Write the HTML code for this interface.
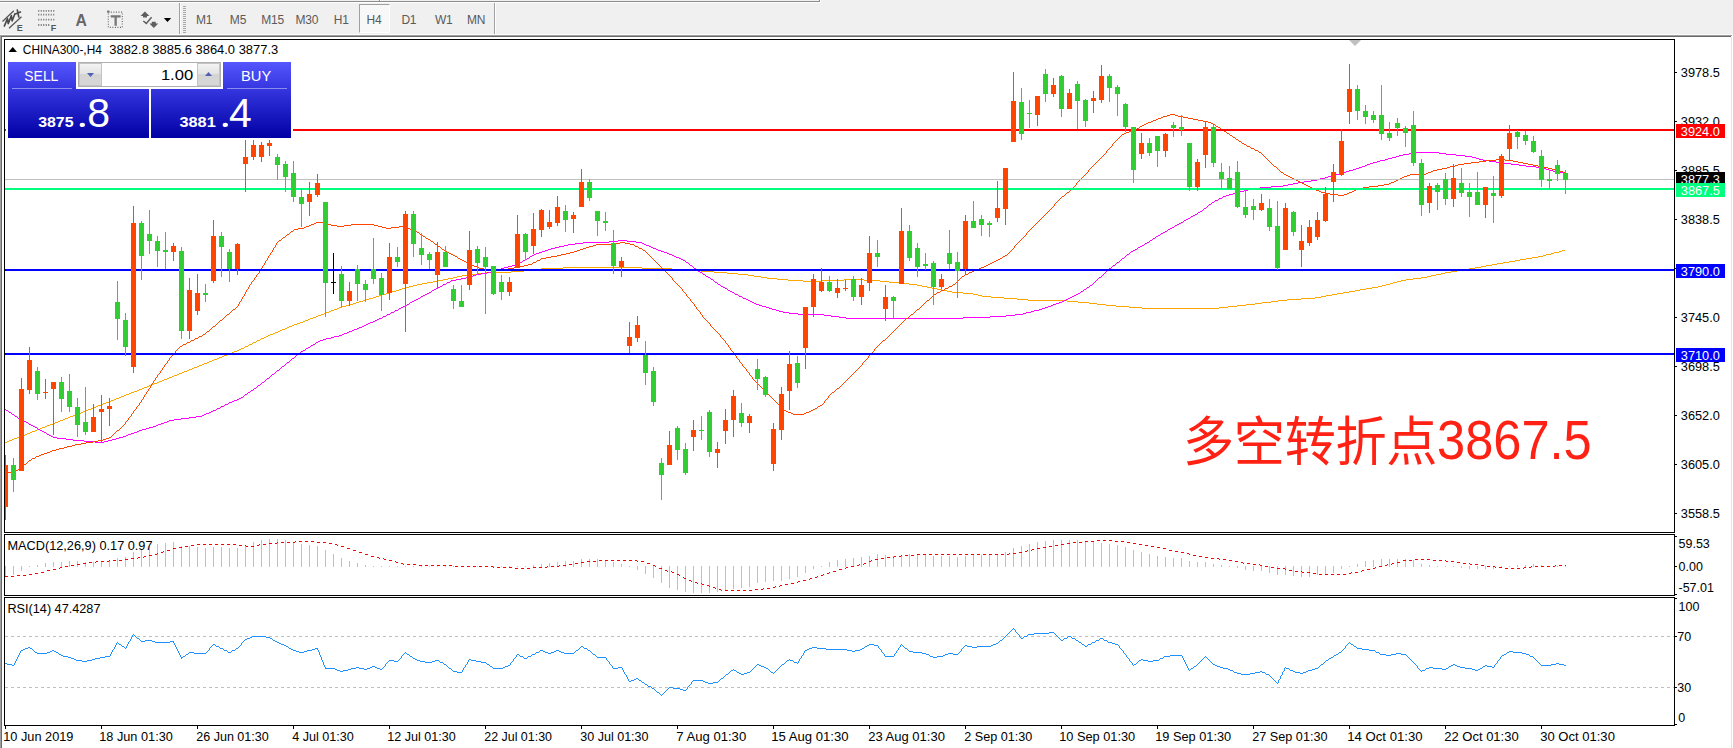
<!DOCTYPE html>
<html><head><meta charset="utf-8"><title>CHINA300-,H4</title>
<style>
html,body{margin:0;padding:0;}
body{width:1733px;height:748px;overflow:hidden;background:#fff;position:relative;font-family:"Liberation Sans",sans-serif;}
#tb{position:absolute;left:0;top:0;width:1733px;height:35px;background:#f0f0f0;}
.tf{position:absolute;top:10px;height:20px;line-height:20px;font-size:12px;color:#5a5a5a;text-align:center;letter-spacing:-0.2px;}
#h4{position:absolute;left:359px;top:4px;width:31px;height:29px;box-sizing:border-box;border-left:1px solid #a0a0a0;border-top:1px solid #a0a0a0;border-right:1px solid #fff;border-bottom:1px solid #fff;background:#f8f8f8;}
#chart{position:absolute;left:0;top:0;}
.ot{position:absolute;color:#fff;white-space:nowrap;}
.note{position:absolute;font-size:50px;line-height:50px;height:50px;color:#ff2214;white-space:nowrap;font-family:"Liberation Sans","Noto Sans CJK SC",sans-serif;transform-origin:0 0;}
</style></head><body>
<div id="tb">
<div id="h4"></div>
<div class="tf" style="left:184.2px;width:40px;">M1</div>
<div class="tf" style="left:218.0px;width:40px;">M5</div>
<div class="tf" style="left:252.7px;width:40px;">M15</div>
<div class="tf" style="left:286.9px;width:40px;">M30</div>
<div class="tf" style="left:321.2px;width:40px;">H1</div>
<div class="tf" style="left:354.1px;width:40px;">H4</div>
<div class="tf" style="left:388.9px;width:40px;">D1</div>
<div class="tf" style="left:423.7px;width:40px;">W1</div>
<div class="tf" style="left:456.2px;width:40px;">MN</div>
</div>
<svg id="chart" width="1733" height="748" viewBox="0 0 1733 748" font-family="Liberation Sans, sans-serif" font-size="13">
<defs>
<linearGradient id="gb" x1="0" y1="62" x2="0" y2="138" gradientUnits="userSpaceOnUse"><stop offset="0" stop-color="#5656ff"/><stop offset="0.35" stop-color="#3636e0"/><stop offset="1" stop-color="#0000a4"/></linearGradient>
<linearGradient id="gs" x1="0" y1="0" x2="0" y2="1"><stop offset="0" stop-color="#f4f4f4"/><stop offset="0.5" stop-color="#e2e2e2"/><stop offset="0.5" stop-color="#d4d4d4"/><stop offset="1" stop-color="#d8d8d8"/></linearGradient>
</defs>
<g shape-rendering="crispEdges">
<rect x="0" y="1" width="820" height="1" fill="#8c8c8c"/><rect x="0" y="2" width="820" height="1" fill="#fff"/><rect x="819" y="0" width="1" height="2" fill="#8c8c8c"/><rect x="820" y="0" width="1" height="3" fill="#fff"/>
<rect x="379" y="0" width="1" height="1" fill="#8c8c8c"/><rect x="380" y="0" width="1" height="1" fill="#fff"/>
<rect x="0" y="34" width="1733" height="1" fill="#fbfbfb"/>
<rect x="0" y="35" width="1732" height="1" fill="#a0a0a0"/>
<rect x="0" y="36" width="1731" height="1" fill="#696969"/>
<rect x="0" y="36" width="1" height="712" fill="#a0a0a0"/>
<rect x="1" y="37" width="1" height="711" fill="#696969"/>
<rect x="1731" y="37" width="1" height="711" fill="#e3e3e3"/>
<rect x="179" y="3" width="1" height="31" fill="#a0a0a0"/><rect x="180" y="3" width="1" height="31" fill="#fff"/>
<rect x="494" y="3" width="1" height="31" fill="#a0a0a0"/><rect x="495" y="3" width="1" height="31" fill="#fff"/>
<rect x="183" y="6" width="3" height="1" fill="#a8a8a8"/>
<rect x="183" y="8" width="3" height="1" fill="#a8a8a8"/>
<rect x="183" y="10" width="3" height="1" fill="#a8a8a8"/>
<rect x="183" y="12" width="3" height="1" fill="#a8a8a8"/>
<rect x="183" y="14" width="3" height="1" fill="#a8a8a8"/>
<rect x="183" y="16" width="3" height="1" fill="#a8a8a8"/>
<rect x="183" y="18" width="3" height="1" fill="#a8a8a8"/>
<rect x="183" y="20" width="3" height="1" fill="#a8a8a8"/>
<rect x="183" y="22" width="3" height="1" fill="#a8a8a8"/>
<rect x="183" y="24" width="3" height="1" fill="#a8a8a8"/>
<rect x="183" y="26" width="3" height="1" fill="#a8a8a8"/>
<rect x="183" y="28" width="3" height="1" fill="#a8a8a8"/>
<rect x="183" y="30" width="3" height="1" fill="#a8a8a8"/>
<rect x="183" y="32" width="3" height="1" fill="#a8a8a8"/>
</g>
<g fill="none" stroke="#555" stroke-width="1.25" stroke-linejoin="round">
<path d="M2.5 21.5 L13.8 10.800 M9 28.200 L21.500 16.800"/>
<path d="M4.1 26.600 L7.500 18.600 L8.200 23.600 L11.400 15.600 L12.100 21 L15.100 13.300 M17.200 9.300 L18.900 17.700 M15.200 14 L21 11.700" stroke-width="1.6" stroke="#4a4a4a"/>
</g>
<text x="16.800" y="30.600" font-size="9" font-weight="bold" fill="#555">E</text>
<g stroke="#777" stroke-width="1.8" stroke-dasharray="1.1 1.4">
<line x1="38.200" y1="10.9" x2="55.4" y2="10.9"/>
<line x1="38.200" y1="14.7" x2="55.4" y2="14.7"/>
<line x1="38.200" y1="19.7" x2="55.4" y2="19.7"/>
<line x1="38.200" y1="25.0" x2="50.2" y2="25.0"/>
</g>
<text x="50.700" y="30.600" font-size="9" font-weight="bold" fill="#555">F</text>
<text x="75.600" y="25.600" font-size="15.800" font-weight="bold" fill="#666">A</text>
<rect x="108.300" y="12.100" width="14" height="15.300" fill="none" stroke="#666" stroke-width="1.1" stroke-dasharray="1 1.550"/>
<rect x="107" y="10.600" width="2.500" height="2" fill="#777"/>
<path d="M110.700 15.300 H120.600 V17.400 H116.800 V25.800 H114.500 V17.400 H110.700 Z" fill="#777"/>
<g fill="#5f5f5f" stroke="none"><path d="M144.900 11.400 L149.400 16 L147 16 L147 17.600 L143 17.600 L143 16 L140.500 16 Z"/><path d="M153.800 28 L149.400 23.400 L151.800 23.400 L151.800 21.800 L155.800 21.800 L155.800 23.400 L158.300 23.400 Z"/></g>
<path d="M143.300 21 L146.300 23.400 L151.600 17.300" fill="none" stroke="#5f5f5f" stroke-width="1.5"/>
<path d="M163.800 17.900 L171.200 17.900 L167.500 22 Z" fill="#000"/>
<g shape-rendering="crispEdges" fill="none" stroke="#000" stroke-width="1">
<path d="M4.5 39.5 H1674.5 V532.5 H4.5 Z"/>
<path d="M4.5 534.5 H1674.5 V595.5 H4.5 Z"/>
<path d="M4.5 597.5 H1674.5 V725.5 H4.5 Z"/>
</g>
<g shape-rendering="crispEdges" fill="none" stroke-width="1">
<path stroke="#ffa500" d="M144 387.5h3M438 280.5h5M788 280.5h15M821 280.5h23M864 280.5h16M1401 280.5h5M541 268.5h22M642 268.5h30M1469 268.5h6M318 315.5h3M114 399.5h2M563 267.5h79M1475 267.5h6M50 424.5h3M287 327.5h2M337 308.5h2M1142 308.5h77M511 271.5h13M701 271.5h13M1451 271.5h6M469 274.5h9M738 274.5h10M1436 274.5h5M369 298.5h4M1004 298.5h13M1301 298.5h14M103 403.5h3M40 428.5h2M366 299.5h3M1017 299.5h11M1287 299.5h14M363 300.5h3M1028 300.5h39M1278 300.5h9M417 284.5h5M909 284.5h8M1386 284.5h4M9 440.5h3M448 278.5h5M767 278.5h10M1413 278.5h8M486 272.5h25M714 272.5h13M1445 272.5h6M373 297.5h3M991 297.5h13M1315 297.5h6M359 301.5h4M1067 301.5h11M1271 301.5h7M1562 250.5h3M349 304.5h4M1097 304.5h9M1246 304.5h9M239 349.5h2M177 374.5h2M443 279.5h5M777 279.5h11M844 279.5h20M1406 279.5h7M1481 266.5h5M389 292.5h3M952 292.5h11M1343 292.5h6M1554 252.5h5M1520 259.5h6M457 276.5h5M754 276.5h7M1427 276.5h4M382 294.5h4M973 294.5h5M1332 294.5h5M234 351.5h3M257 340.5h3M353 303.5h3M1089 303.5h8M1255 303.5h7M1509 261.5h6M376 296.5h3M982 296.5h9M1321 296.5h5M402 288.5h4M932 288.5h5M1366 288.5h6M253 342.5h3M167 378.5h2M1546 254.5h5M73 415.5h2M224 355.5h3M42 427.5h3M162 380.5h2M194 367.5h3M131 392.5h3M305 320.5h3M427 282.5h6M889 282.5h11M1393 282.5h4M101 404.5h2M1532 257.5h6M342 306.5h4M1116 306.5h13M1228 306.5h9M1559 251.5h3M1526 258.5h6M32 431.5h3M534 269.5h7M672 269.5h15M1463 269.5h6M386 293.5h3M963 293.5h10M1337 293.5h6M58 421.5h2M27 433.5h3M413 285.5h4M917 285.5h5M1382 285.5h4M462 275.5h7M748 275.5h6M1431 275.5h5M524 270.5h10M687 270.5h14M1457 270.5h6M227 354.5h2M164 379.5h3M339 307.5h3M1129 307.5h13M1219 307.5h9M433 281.5h5M803 281.5h18M880 281.5h9M1397 281.5h4M275 332.5h3M346 305.5h3M1106 305.5h10M1237 305.5h9M245 346.5h3M154 383.5h3M91 408.5h2M60 420.5h3M30 432.5h2M266 336.5h2M409 286.5h4M922 286.5h5M1378 286.5h4M19 436.5h3M478 273.5h8M727 273.5h11M1441 273.5h4M379 295.5h3M978 295.5h4M1326 295.5h6M399 289.5h3M937 289.5h5M1360 289.5h6M329 311.5h2M392 291.5h4M947 291.5h5M1349 291.5h6M1492 264.5h5M297 323.5h3M268 335.5h2M356 302.5h3M1078 302.5h11M1262 302.5h9M282 329.5h3M78 413.5h3M1497 263.5h6M37 429.5h3M204 363.5h3M316 316.5h2M285 328.5h2M396 290.5h3M942 290.5h5M1355 290.5h5M197 366.5h2M422 283.5h5M900 283.5h9M1390 283.5h3M334 309.5h3M124 395.5h2M93 407.5h3M212 360.5h2M182 372.5h2M119 397.5h2M88 409.5h3M406 287.5h3M927 287.5h5M1372 287.5h6M14 438.5h3M47 425.5h3M1503 262.5h6M214 359.5h3M152 384.5h2M326 312.5h3M264 337.5h2M142 388.5h2M111 400.5h3M17 437.5h2M7 441.5h2M237 350.5h2M313 317.5h3M70 416.5h3M270 334.5h3M25 434.5h2M273 333.5h2M453 277.5h4M761 277.5h6M1421 277.5h6M294 324.5h3M184 371.5h3M241 348.5h3M174 375.5h3M81 412.5h2M199 365.5h3M169 377.5h3M106 402.5h3M139 389.5h3M65 418.5h3M35 430.5h2M202 364.5h2M172 376.5h2M1543 255.5h3M192 368.5h2M129 393.5h2M98 405.5h3M68 417.5h2M303 321.5h2M331 310.5h3M121 396.5h3M179 373.5h3M289 326.5h3M75 414.5h3M149 385.5h3M324 313.5h2M261 338.5h3M292 325.5h2M1515 260.5h5M5 442.5h2M249 344.5h3M157 382.5h2M126 394.5h3M300 322.5h3M53 423.5h2M22 435.5h3M189 369.5h3M222 356.5h2M159 381.5h3M86 410.5h2M55 422.5h3M45 426.5h2M1486 265.5h6M109 401.5h2M229 353.5h3M278 331.5h2M63 419.5h2M1551 253.5h3M1538 256.5h5M310 318.5h3M280 330.5h2M96 406.5h2M209 361.5h3M137 390.5h2M232 352.5h2M217 358.5h2M147 386.5h2M83 411.5h3M321 314.5h3M116 398.5h3M187 370.5h2M219 357.5h3M12 439.5h2M134 391.5h3M308 319.5h2M207 362.5h2M256.5 341v1M244.5 347v1M260.5 339v1M252.5 343v1M248.5 345v1"/>
<path stroke="#ff00ff" d="M789 313.5h9M1023 313.5h3M20 419.5h2M174 419.5h7M379 318.5h3M846 318.5h117M1359 167.5h3M1536 167.5h6M1416 152.5h23M527 258.5h2M679 258.5h2M1122 258.5h2M383 316.5h3M831 316.5h8M990 316.5h16M492 271.5h3M698 271.5h2M839 317.5h7M963 317.5h27M258 385.5h2M12 414.5h2M204 414.5h2M525 259.5h2M681 259.5h2M1195 214.5h2M1356 168.5h3M1542 168.5h4M399 308.5h2M769 308.5h3M1042 308.5h3M1396 156.5h3M1465 156.5h7M297 354.5h2M501 268.5h3M694 268.5h2M1109 268.5h2M559 246.5h5M649 246.5h2M1140 246.5h2M1156 236.5h2M33 426.5h2M153 426.5h3M461 278.5h5M189 417.5h7M1346 171.5h3M1553 171.5h5M1339 173.5h4M347 332.5h2M609 241.5h9M627 241.5h9M432 290.5h2M728 290.5h2M487 272.5h5M700 272.5h2M342 334.5h2M373 321.5h2M38 429.5h2M142 429.5h4M1328 176.5h4M1362 166.5h3M1526 166.5h10M1293 183.5h5M1219 198.5h3M391 312.5h3M783 312.5h6M1026 312.5h5M53 437.5h4M119 437.5h4M476 274.5h5M703 274.5h2M1353 169.5h3M1546 169.5h3M1215 200.5h3M824 315.5h7M1006 315.5h9M772 309.5h4M1039 309.5h3M1271 186.5h12M583 242.5h26M636 242.5h6M1147 242.5h2M84 441.5h11M104 441.5h4M1158 235.5h2M40 430.5h2M139 430.5h3M568 244.5h7M644 244.5h2M221 406.5h3M429 292.5h2M732 292.5h2M320 340.5h3M1304 181.5h7M241 397.5h2M548 249.5h3M656 249.5h2M1135 249.5h2M466 277.5h3M708 277.5h2M1099 277.5h2M403 306.5h2M762 306.5h4M1048 306.5h3M73 440.5h11M108 440.5h4M618 240.5h9M1150 240.5h2M447 282.5h3M715 282.5h2M575 243.5h8M642 243.5h2M1145 243.5h2M1385 159.5h3M1479 159.5h4M564 245.5h4M646 245.5h3M1142 245.5h2M530 256.5h2M674 256.5h2M516 264.5h2M1388 158.5h4M1476 158.5h3M57 438.5h9M116 438.5h3M536 253.5h3M667 253.5h2M1317 179.5h3M303 350.5h2M545 250.5h3M658 250.5h3M1133 250.5h2M1184 220.5h2M438 287.5h2M723 287.5h2M1087 287.5h2M95 442.5h9M1377 161.5h3M1489 161.5h7M387 314.5h3M798 314.5h26M1015 314.5h8M161 423.5h3M1181 222.5h2M434 289.5h2M1084 289.5h2M730 291.5h2M1081 291.5h2M1226 195.5h3M6 410.5h2M213 410.5h3M421 296.5h2M739 296.5h3M1072 296.5h2M282 366.5h2M1253 188.5h7M9 412.5h2M209 412.5h2M539 252.5h3M664 252.5h3M676 257.5h3M232 401.5h2M534 254.5h2M669 254.5h3M1127 254.5h2M440 286.5h2M721 286.5h2M1409 153.5h7M1439 153.5h7M401 307.5h2M766 307.5h3M1045 307.5h3M1399 155.5h4M1456 155.5h9M1240 191.5h4M26 422.5h2M164 422.5h3M405 305.5h2M759 305.5h3M1051 305.5h2M1260 187.5h11M1229 194.5h4M495 270.5h3M436 288.5h2M725 288.5h2M443 284.5h3M718 284.5h2M287 362.5h2M481 273.5h6M15 416.5h2M196 416.5h6M51 436.5h2M123 436.5h3M44 432.5h2M134 432.5h3M469 276.5h4M706 276.5h2M410 302.5h2M752 302.5h2M1059 302.5h3M1403 154.5h6M1446 154.5h10M456 279.5h5M711 279.5h2M427 293.5h2M1078 293.5h2M1175 225.5h2M35 427.5h2M149 427.5h4M66 439.5h7M112 439.5h4M344 333.5h3M1288 184.5h5M779 311.5h4M1031 311.5h3M412 301.5h2M750 301.5h2M1062 301.5h2M498 269.5h3M1343 172.5h3M1558 172.5h8M47 434.5h2M128 434.5h3M555 247.5h4M651 247.5h2M1138 247.5h2M1380 160.5h5M1483 160.5h6M523 260.5h2M683 260.5h2M366 324.5h2M334 336.5h5M518 263.5h2M395 310.5h3M776 310.5h3M1034 310.5h5M362 326.5h2M1367 164.5h3M1511 164.5h8M323 339.5h3M1373 162.5h4M1496 162.5h8M272 374.5h2M318 341.5h2M18 418.5h2M181 418.5h8M1200 211.5h2M1223 196.5h3M1165 231.5h2M364 325.5h2M1248 189.5h5M418 298.5h2M743 298.5h3M1068 298.5h2M22 420.5h2M169 420.5h5M229 402.5h3M1236 192.5h4M542 251.5h3M661 251.5h3M1131 251.5h2M248 392.5h2M407 304.5h2M756 304.5h3M1053 304.5h3M311 345.5h2M202 415.5h2M131 433.5h3M326 338.5h5M354 329.5h3M29 424.5h2M158 424.5h3M31 425.5h2M156 425.5h2M375 320.5h2M217 408.5h3M370 322.5h3M1172 227.5h2M339 335.5h3M532 255.5h2M672 255.5h2M754 303.5h2M1056 303.5h3M1332 175.5h4M1198 212.5h2M262 382.5h2M239 398.5h2M331 337.5h3M1311 180.5h6M301 351.5h2M512 265.5h4M690 265.5h2M1113 265.5h2M49 435.5h2M126 435.5h2M211 411.5h2M1392 157.5h4M1472 157.5h4M1070 297.5h2M414 300.5h2M748 300.5h2M1064 300.5h2M508 266.5h4M416 299.5h2M746 299.5h2M1066 299.5h2M42 431.5h2M137 431.5h2M1370 163.5h3M1504 163.5h7M349 331.5h3M1349 170.5h4M1549 170.5h4M1365 165.5h2M1519 165.5h7M451 280.5h5M504 267.5h4M352 330.5h2M24 421.5h2M167 421.5h2M425 294.5h2M735 294.5h3M1076 294.5h2M1191 216.5h2M254 388.5h2M206 413.5h3M1298 182.5h6M234 400.5h3M359 327.5h3M551 248.5h4M653 248.5h3M292 358.5h2M1233 193.5h3M1163 232.5h2M1209 204.5h2M245 394.5h2M146 428.5h3M308 347.5h2M368 323.5h2M306 348.5h2M1320 178.5h5M1188 218.5h2M1090 285.5h2M1153 238.5h2M423 295.5h2M1074 295.5h2M1244 190.5h4M316 342.5h2M473 275.5h3M377 319.5h2M1161 233.5h2M277 370.5h2M1204 208.5h2M1212 202.5h2M1336 174.5h3M1325 177.5h3M237 399.5h2M357 328.5h2M1177 224.5h2M1179 223.5h2M1283 185.5h5M225 404.5h3M1168 229.5h2M267 378.5h2M1186 219.5h2M1170 228.5h2M520 262.5h2M686 262.5h2M1117 262.5h2M1193 215.5h2M313 344.5h2M251 390.5h2M390.5 313v1M1106.5 271v1M382.5 317v1M1121.5 259v1M710.5 278v1M1098.5 278v1M17.5 417v1M1149.5 241v1M1083.5 290v1M1174.5 226v1M1105.5 272v1M266.5 379v1M1103.5 274v1M386.5 315v1M398.5 309v1M1144.5 244v1M1080.5 292v1M1094.5 282v1M1125.5 256v1M689.5 264v1M1115.5 264v1M1129.5 253v1M28.5 423v1M727.5 289v1M431.5 291v1M522.5 261v1M685.5 261v1M1119.5 261v1M1130.5 252v1M529.5 257v1M1124.5 257v1M1089.5 286v1M1207.5 206v1M697.5 270v1M1107.5 270v1M1086.5 288v1M1092.5 284v1M702.5 273v1M1104.5 273v1M1101.5 276v1M1097.5 279v1M734.5 293v1M289.5 361v1M450.5 281v1M714.5 281v1M1095.5 281v1M394.5 311v1M696.5 269v1M1108.5 269v1M1155.5 237v1M1202.5 210v1M265.5 380v1M1120.5 260v1M688.5 263v1M1116.5 263v1M280.5 368v1M1208.5 205v1M14.5 415v1M46.5 433v1M286.5 363v1M1218.5 199v1M1126.5 255v1M1214.5 201v1M409.5 303v1M294.5 357v1M1183.5 221v1M247.5 393v1M270.5 376v1M8.5 411v1M420.5 297v1M742.5 297v1M692.5 266v1M1112.5 266v1M713.5 280v1M1096.5 280v1M693.5 267v1M1111.5 267v1M257.5 386v1M310.5 346v1M220.5 407v1M11.5 413v1M1137.5 248v1M300.5 352v1M1206.5 207v1M269.5 377v1M37.5 428v1M1190.5 217v1M284.5 365v1M446.5 283v1M717.5 283v1M1093.5 283v1M256.5 387v1M442.5 285v1M720.5 285v1M5.5 409v1M216.5 409v1M738.5 295v1M264.5 381v1M271.5 375v1M705.5 275v1M1102.5 275v1M228.5 403v1M1160.5 234v1M224.5 405v1M285.5 364v1M253.5 389v1M261.5 383v1M276.5 371v1M244.5 395v1M250.5 391v1M291.5 359v1M315.5 343v1M260.5 384v1M299.5 353v1M1222.5 197v1M275.5 372v1M243.5 396v1M305.5 349v1M1152.5 239v1M281.5 367v1M1197.5 213v1M296.5 355v1M1203.5 209v1M1211.5 203v1M274.5 373v1M1167.5 230v1M295.5 356v1M279.5 369v1M290.5 360v1"/>
<path stroke="#ff4500" d="M941 290.5h3M479 268.5h5M508 268.5h6M979 268.5h2M477 267.5h2M514 267.5h6M981 267.5h3M1167 115.5h3M1175 115.5h3M1306 185.5h2M1378 185.5h6M470 264.5h2M528 264.5h4M988 264.5h2M1458 164.5h6M1528 164.5h5M464 261.5h2M994 261.5h2M472 265.5h2M524 265.5h4M986 265.5h2M1161 117.5h2M1183 117.5h5M1330 194.5h8M1344 194.5h3M306 226.5h3M337 226.5h7M378 226.5h4M399 226.5h5M577 250.5h3M643 250.5h2M298 228.5h6M386 228.5h5M407 228.5h3M1129 131.5h4M1224 131.5h2M309 225.5h2M331 225.5h6M344 225.5h7M374 225.5h4M1437 169.5h5M1552 169.5h3M435 244.5h2M596 244.5h19M630 244.5h4M447 252.5h2M570 252.5h4M279 240.5h2M1067 192.5h2M1321 192.5h4M1349 192.5h3M1496 159.5h9M906 318.5h2M287 234.5h2M420 234.5h2M466 262.5h2M533 262.5h3M992 262.5h2M484 269.5h5M499 269.5h9M977 269.5h2M311 224.5h3M326 224.5h5M351 224.5h23M1433 170.5h4M1555 170.5h4M1151 121.5h2M1203 121.5h5M965 274.5h3M1163 116.5h4M1178 116.5h5M438 246.5h2M589 246.5h4M635 246.5h3M1471 162.5h8M1518 162.5h5M1284 174.5h2M1410 174.5h16M75 444.5h6M304 227.5h2M382 227.5h4M391 227.5h8M404 227.5h3M1338 195.5h6M103 439.5h3M64 447.5h3M1325 193.5h5M1347 193.5h2M1486 160.5h10M1505 160.5h8M1122 134.5h2M1464 163.5h7M1523 163.5h5M546 257.5h5M52 450.5h4M93 441.5h5M793 414.5h11M1274 166.5h2M1450 166.5h5M1538 166.5h5M1251 148.5h3M106 438.5h3M442 249.5h2M580 249.5h3M67 446.5h5M784 410.5h2M811 410.5h2M1290 177.5h2M1402 177.5h2M291 231.5h2M415 231.5h2M5 472.5h9M458 258.5h2M541 258.5h5M1000 258.5h2M788 412.5h3M806 412.5h3M1310 187.5h2M1363 187.5h6M593 245.5h3M489 270.5h10M974 270.5h3M969 272.5h3M1144 124.5h2M1213 124.5h2M207 331.5h2M962 276.5h2M44 453.5h3M180 346.5h2M1170 114.5h5M453 255.5h2M557 255.5h4M1005 255.5h2M832 392.5h2M1140 126.5h2M1216 126.5h2M468 263.5h2M990 263.5h2M220 320.5h2M615 243.5h5M625 243.5h5M460 259.5h2M998 259.5h2M316 222.5h8M1302 183.5h2M1389 183.5h2M233 309.5h2M917 309.5h2M1286 175.5h2M1407 175.5h3M620 242.5h5M934 294.5h2M1133 130.5h2M1316 190.5h3M1354 190.5h2M953 284.5h2M949 286.5h3M972 271.5h2M820 405.5h2M474 266.5h3M520 266.5h4M984 266.5h2M294 229.5h4M410 229.5h3M449 253.5h2M566 253.5h4M1442 168.5h5M1548 168.5h4M86 442.5h7M462 260.5h2M537 260.5h3M996 260.5h2M81 443.5h5M428 239.5h2M1447 167.5h3M1543 167.5h5M1244 144.5h2M1218 127.5h2M1294 179.5h2M1398 179.5h2M1312 188.5h2M1359 188.5h4M1319 191.5h2M1352 191.5h2M1426 173.5h2M583 248.5h3M639 248.5h3M1479 161.5h7M1513 161.5h5M455 256.5h2M551 256.5h6M1003 256.5h2M191 340.5h3M883 340.5h2M1062 196.5h2M187 342.5h3M818 406.5h2M1255 150.5h3M32 458.5h3M1148 122.5h3M1208 122.5h3M283 237.5h2M314 223.5h2M324 223.5h2M1242 143.5h2M199 336.5h3M59 448.5h5M1156 119.5h2M1193 119.5h5M1308 186.5h2M1369 186.5h9M1230 135.5h2M16 470.5h2M927 300.5h2M451 254.5h2M561 254.5h5M1292 178.5h2M1400 178.5h2M426 238.5h2M24 464.5h2M1259 152.5h2M41 454.5h3M1126 132.5h3M586 247.5h3M1158 118.5h3M1188 118.5h5M213 326.5h2M1304 184.5h2M1384 184.5h5M1247 146.5h3M1135 129.5h2M1221 129.5h2M1314 189.5h2M1356 189.5h3M1288 176.5h2M1404 176.5h3M791 413.5h2M804 413.5h2M813 409.5h2M945 288.5h3M1455 165.5h3M1533 165.5h5M1236 139.5h2M195 338.5h3M1431 171.5h2M1559 171.5h4M423 236.5h2M837 388.5h2M937 292.5h3M98 440.5h5M417 232.5h2M1296 180.5h2M1396 180.5h2M183 344.5h3M203 334.5h2M413 230.5h2M1124 133.5h2M1227 133.5h2M1153 120.5h3M1198 120.5h5M1233 137.5h2M1142 125.5h2M1146 123.5h2M1211 123.5h2M117 430.5h2M47 452.5h3M227 314.5h2M911 314.5h2M14 471.5h2M445 251.5h2M574 251.5h3M1281 172.5h2M1428 172.5h3M1563 172.5h3M786 411.5h2M809 411.5h2M39 455.5h2M1137 128.5h2M1239 141.5h2M815 408.5h2M1298 181.5h2M1394 181.5h2M109 437.5h2M72 445.5h3M29 460.5h2M431 241.5h2M50 451.5h2M1300 182.5h2M1391 182.5h3M36 456.5h3M56 449.5h3M19 468.5h2M246.5 290v2M682.5 289v2M683.5 291v1M940.5 291v1M261.5 268v2M662.5 268v1M262.5 266v2M661.5 267v1M136.5 407v2M781.5 407v1M817.5 407v1M1075.5 185v1M264.5 263v2M658.5 264v1M128.5 418v2M1094.5 164v1M1272.5 164v1M265.5 261v2M536.5 261v1M655.5 261v1M263.5 265v1M659.5 265v1M1065.5 194v1M242.5 297v2M688.5 297v1M931.5 297v1M1033.5 226v1M272.5 250v2M444.5 250v1M1011.5 250v1M1031.5 228v1M1034.5 225v1M1089.5 169v1M1278.5 169v1M276.5 243v2M1016.5 244v1M205.5 333v1M718.5 333v1M891.5 333v1M271.5 252v1M646.5 252v1M1009.5 252v1M430.5 240v1M1020.5 240v1M1099.5 159v1M1267.5 159v1M223.5 318v1M704.5 318v1M249.5 285v2M678.5 285v1M952.5 285v1M1026.5 233v2M656.5 262v1M663.5 269v1M1035.5 224v1M238.5 304v2M694.5 304v2M923.5 304v1M120.5 428v1M1088.5 170v2M1279.5 170v1M258.5 273v1M667.5 273v1M968.5 273v1M168.5 360v1M739.5 360v2M865.5 360v1M257.5 274v1M668.5 274v1M163.5 367v1M744.5 367v1M859.5 367v1M275.5 245v2M1014.5 246v2M1038.5 221v1M239.5 302v2M693.5 303v1M924.5 303v1M1096.5 162v1M1270.5 162v1M1085.5 174v1M1116.5 140v1M1238.5 140v1M179.5 347v1M729.5 347v1M876.5 347v1M1032.5 227v1M202.5 335v1M720.5 335v2M889.5 335v1M1064.5 195v1M241.5 299v2M690.5 299v2M929.5 299v1M198.5 337v1M721.5 337v1M887.5 337v1M1108.5 149v1M1254.5 149v1M1066.5 193v1M1098.5 160v1M1268.5 160v1M1229.5 134v1M1095.5 163v1M1271.5 163v1M268.5 256v2M457.5 257v1M651.5 257v1M1002.5 257v1M1045.5 214v1M237.5 306v1M695.5 306v1M921.5 306v1M131.5 414v2M144.5 395v2M770.5 396v1M828.5 396v2M1092.5 166v1M1109.5 148v1M273.5 248v2M642.5 249v1M1012.5 249v1M134.5 410v1M1082.5 177v1M1028.5 231v1M267.5 258v2M652.5 258v1M133.5 411v2M1073.5 187v1M140.5 402v1M776.5 402v1M824.5 401v2M437.5 245v1M634.5 245v1M1015.5 245v1M190.5 341v1M725.5 341v2M882.5 341v1M139.5 403v2M777.5 403v1M823.5 403v1M260.5 270v1M664.5 270v1M259.5 271v2M666.5 272v1M164.5 365v2M742.5 364v2M861.5 365v1M716.5 331v1M893.5 331v1M256.5 275v2M670.5 276v1M728.5 345v2M877.5 346v1M236.5 307v1M696.5 307v2M920.5 307v1M269.5 255v1M649.5 255v1M146.5 392v2M766.5 392v1M532.5 263v1M657.5 263v1M706.5 320v1M904.5 320v1M434.5 243v1M1017.5 243v1M540.5 259v1M653.5 259v1M142.5 399v1M773.5 399v1M826.5 399v1M172.5 355v1M735.5 355v1M869.5 355v1M1037.5 222v1M162.5 368v2M746.5 369v2M857.5 369v1M167.5 361v2M864.5 361v1M251.5 282v2M676.5 283v1M955.5 283v1M157.5 375v2M750.5 375v1M851.5 375v1M1076.5 183v2M113.5 434v1M697.5 309v1M1084.5 175v1M243.5 296v1M687.5 296v1M932.5 296v1M277.5 242v1M433.5 242v1M1018.5 242v1M244.5 294v2M686.5 294v2M1223.5 130v1M1070.5 190v1M1105.5 153v1M1261.5 153v1M250.5 284v1M677.5 284v1M141.5 400v2M774.5 400v1M825.5 400v1M679.5 286v1M665.5 271v1M1102.5 156v1M1264.5 156v1M138.5 405v1M779.5 405v1M230.5 312v1M700.5 312v2M914.5 312v1M254.5 278v2M672.5 278v2M959.5 279v1M743.5 366v1M860.5 366v1M660.5 266v1M218.5 322v1M708.5 322v1M902.5 322v1M217.5 323v1M709.5 323v1M901.5 323v1M1030.5 229v1M160.5 371v2M748.5 372v1M854.5 372v1M270.5 253v2M647.5 253v1M1008.5 253v1M1090.5 168v1M1277.5 168v1M266.5 260v1M654.5 260v1M1057.5 201v1M150.5 386v2M761.5 387v1M839.5 387v1M281.5 239v1M1021.5 239v1M1091.5 167v1M1276.5 167v1M148.5 389v2M763.5 389v1M836.5 389v1M1112.5 144v2M229.5 313v1M913.5 313v1M1139.5 127v1M186.5 343v1M726.5 343v1M880.5 343v1M1080.5 179v1M177.5 349v1M730.5 348v2M874.5 349v2M154.5 380v1M754.5 380v1M846.5 380v1M1072.5 188v1M1069.5 191v1M27.5 462v1M1086.5 173v1M1283.5 173v1M1061.5 197v1M151.5 384v2M758.5 384v1M842.5 384v1M441.5 248v1M1013.5 248v1M252.5 281v1M674.5 281v1M957.5 281v1M147.5 391v1M765.5 391v1M834.5 391v1M215.5 325v1M710.5 324v2M899.5 325v1M1097.5 161v1M1269.5 161v1M159.5 373v1M749.5 373v2M853.5 373v1M650.5 256v1M143.5 397v2M772.5 398v1M827.5 398v1M669.5 275v1M964.5 275v1M751.5 376v1M850.5 376v1M173.5 354v1M734.5 354v1M870.5 354v1M216.5 324v1M900.5 324v1M724.5 340v1M881.5 342v1M114.5 433v1M137.5 406v1M780.5 406v1M240.5 301v1M691.5 301v1M926.5 301v1M692.5 302v1M925.5 302v1M1107.5 150v1M182.5 345v1M878.5 345v1M174.5 353v1M733.5 352v2M871.5 353v1M175.5 351v2M732.5 351v1M873.5 351v1M169.5 358v2M738.5 359v1M866.5 359v1M960.5 278v1M425.5 237v1M1023.5 237v1M231.5 311v1M699.5 311v1M915.5 311v1M1036.5 223v1M1114.5 142v1M1241.5 142v1M211.5 328v1M713.5 328v1M896.5 328v1M212.5 327v1M712.5 327v1M897.5 327v1M1113.5 143v1M888.5 336v1M222.5 319v1M705.5 319v1M905.5 319v1M125.5 422v2M769.5 395v1M829.5 395v1M689.5 298v1M930.5 298v1M253.5 280v1M673.5 280v1M958.5 280v1M775.5 401v1M1043.5 216v1M1074.5 186v1M1101.5 157v1M1265.5 157v1M1121.5 135v1M219.5 321v1M707.5 321v1M903.5 321v1M178.5 348v1M875.5 348v1M226.5 315v1M702.5 315v2M910.5 315v1M675.5 282v1M956.5 282v1M648.5 254v1M1007.5 254v1M1050.5 209v1M1081.5 178v1M282.5 238v1M1022.5 238v1M156.5 377v1M752.5 377v2M849.5 377v1M745.5 368v1M858.5 368v1M158.5 374v1M852.5 374v1M1106.5 151v2M206.5 332v1M717.5 332v1M892.5 332v1M1226.5 132v1M771.5 397v1M209.5 330v1M715.5 330v1M894.5 330v1M274.5 247v1M440.5 247v1M638.5 247v1M286.5 235v1M422.5 235v1M1025.5 235v1M711.5 326v1M898.5 326v1M767.5 393v1M831.5 393v1M1111.5 146v1M232.5 310v1M698.5 310v1M916.5 310v1M122.5 426v1M171.5 356v1M736.5 356v2M868.5 356v2M747.5 371v1M855.5 371v1M1071.5 189v1M1083.5 176v1M132.5 413v1M119.5 429v1M135.5 409v1M783.5 409v1M248.5 287v2M681.5 288v1M1093.5 165v1M1273.5 165v1M130.5 416v1M1117.5 139v1M722.5 338v1M886.5 338v1M1280.5 171v1M285.5 236v1M1024.5 236v1M149.5 388v1M762.5 388v1M210.5 329v1M714.5 329v1M895.5 329v1M161.5 370v1M856.5 370v1M245.5 292v2M684.5 292v1M1120.5 136v1M1232.5 136v1M290.5 232v1M1027.5 232v1M289.5 233v1M419.5 233v1M1079.5 180v1M153.5 381v2M756.5 382v1M844.5 382v1M152.5 383v1M757.5 383v1M843.5 383v1M1042.5 217v1M155.5 378v2M753.5 379v1M847.5 379v1M727.5 344v1M879.5 344v1M764.5 390v1M835.5 390v1M1054.5 204v2M1246.5 145v1M719.5 334v1M890.5 334v1M225.5 316v1M909.5 316v1M1049.5 210v1M293.5 230v1M1029.5 230v1M759.5 385v1M841.5 385v1M23.5 465v1M740.5 362v1M863.5 362v1M255.5 277v1M671.5 277v1M961.5 277v1M112.5 435v1M1119.5 137v1M1215.5 125v1M31.5 459v1M165.5 364v1M862.5 363v2M1104.5 154v1M1262.5 154v1M1103.5 155v1M1263.5 155v1M685.5 293v1M936.5 293v1M126.5 421v1M145.5 394v1M768.5 394v1M830.5 394v1M166.5 363v1M741.5 363v1M1258.5 151v1M1110.5 147v1M1250.5 147v1M701.5 314v1M645.5 251v1M1010.5 251v1M1087.5 172v1M1048.5 211v1M235.5 308v1M919.5 308v1M922.5 305v1M1220.5 128v1M1115.5 141v1M782.5 408v1M760.5 386v1M840.5 386v1M1078.5 181v1M1053.5 206v1M1118.5 138v1M1235.5 138v1M755.5 381v1M845.5 381v1M28.5 461v1M680.5 287v1M948.5 287v1M247.5 289v1M944.5 289v1M111.5 436v1M176.5 350v1M731.5 350v1M872.5 352v1M170.5 357v1M194.5 339v1M723.5 339v1M885.5 339v1M737.5 358v1M867.5 358v1M115.5 432v1M1100.5 158v1M1266.5 158v1M278.5 241v1M1019.5 241v1M1040.5 219v1M1055.5 203v1M1047.5 212v1M21.5 467v1M1059.5 199v1M778.5 404v1M822.5 404v1M848.5 378v1M1077.5 182v1M123.5 425v1M1041.5 218v1M224.5 317v1M703.5 317v1M908.5 317v1M1039.5 220v1M22.5 466v1M1046.5 213v1M1058.5 200v1M116.5 431v1M933.5 295v1M127.5 420v1M1060.5 198v1M1052.5 207v1M124.5 424v1M121.5 427v1M35.5 457v1M1044.5 215v1M1056.5 202v1M18.5 469v1M1051.5 208v1M26.5 463v1M129.5 417v1"/>
</g>
<g shape-rendering="crispEdges">
<rect x="5" y="179" width="1669" height="1" fill="#c0c0c0"/>
<rect x="5" y="129" width="1669" height="2" fill="#ff0000"/>
<rect x="5" y="188" width="1669" height="2" fill="#00ff7f"/>
<rect x="5" y="269" width="1669" height="2" fill="#0000ff"/>
<rect x="5" y="353" width="1669" height="2" fill="#0000ff"/>
</g>
<g shape-rendering="crispEdges">
<rect x="5" y="455" width="1" height="65" fill="#ff4500"/>
<rect x="5" y="465" width="3" height="42" fill="#ff4500"/>
<rect x="13" y="458" width="1" height="34" fill="#32cd32"/>
<rect x="11" y="465" width="5" height="15" fill="#32cd32"/>
<rect x="21" y="378" width="1" height="92" fill="#ff4500"/>
<rect x="19" y="389" width="5" height="82" fill="#ff4500"/>
<rect x="29" y="347" width="1" height="47" fill="#ff4500"/>
<rect x="27" y="360" width="5" height="30" fill="#ff4500"/>
<rect x="37" y="367" width="1" height="33" fill="#32cd32"/>
<rect x="35" y="371" width="5" height="23" fill="#32cd32"/>
<rect x="45" y="379" width="1" height="20" fill="#ff4500"/>
<rect x="43" y="392" width="5" height="1" fill="#ff4500"/>
<rect x="53" y="382" width="1" height="53" fill="#ff4500"/>
<rect x="51" y="382" width="5" height="7" fill="#ff4500"/>
<rect x="61" y="377" width="1" height="35" fill="#32cd32"/>
<rect x="59" y="382" width="5" height="17" fill="#32cd32"/>
<rect x="69" y="374" width="1" height="38" fill="#32cd32"/>
<rect x="67" y="391" width="5" height="16" fill="#32cd32"/>
<rect x="77" y="398" width="1" height="39" fill="#32cd32"/>
<rect x="75" y="407" width="5" height="18" fill="#32cd32"/>
<rect x="85" y="387" width="1" height="48" fill="#32cd32"/>
<rect x="83" y="422" width="5" height="10" fill="#32cd32"/>
<rect x="93" y="404" width="1" height="28" fill="#ff4500"/>
<rect x="91" y="417" width="5" height="15" fill="#ff4500"/>
<rect x="101" y="395" width="1" height="48" fill="#ff4500"/>
<rect x="99" y="409" width="5" height="3" fill="#ff4500"/>
<rect x="109" y="398" width="1" height="28" fill="#ff4500"/>
<rect x="107" y="406" width="5" height="3" fill="#ff4500"/>
<rect x="117" y="281" width="1" height="59" fill="#32cd32"/>
<rect x="115" y="302" width="5" height="17" fill="#32cd32"/>
<rect x="125" y="313" width="1" height="43" fill="#32cd32"/>
<rect x="123" y="320" width="5" height="27" fill="#32cd32"/>
<rect x="133" y="206" width="1" height="167" fill="#ff4500"/>
<rect x="131" y="223" width="5" height="144" fill="#ff4500"/>
<rect x="141" y="221" width="1" height="59" fill="#32cd32"/>
<rect x="139" y="223" width="5" height="33" fill="#32cd32"/>
<rect x="149" y="210" width="1" height="44" fill="#32cd32"/>
<rect x="147" y="234" width="5" height="7" fill="#32cd32"/>
<rect x="157" y="236" width="1" height="31" fill="#32cd32"/>
<rect x="155" y="241" width="5" height="10" fill="#32cd32"/>
<rect x="165" y="232" width="1" height="37" fill="#32cd32"/>
<rect x="163" y="250" width="5" height="2" fill="#32cd32"/>
<rect x="173" y="243" width="1" height="18" fill="#ff4500"/>
<rect x="171" y="246" width="5" height="6" fill="#ff4500"/>
<rect x="181" y="247" width="1" height="92" fill="#32cd32"/>
<rect x="179" y="251" width="5" height="80" fill="#32cd32"/>
<rect x="189" y="278" width="1" height="61" fill="#ff4500"/>
<rect x="187" y="290" width="5" height="41" fill="#ff4500"/>
<rect x="197" y="274" width="1" height="41" fill="#ff4500"/>
<rect x="195" y="293" width="5" height="18" fill="#ff4500"/>
<rect x="205" y="284" width="1" height="18" fill="#32cd32"/>
<rect x="203" y="293" width="5" height="2" fill="#32cd32"/>
<rect x="213" y="220" width="1" height="63" fill="#ff4500"/>
<rect x="211" y="236" width="5" height="45" fill="#ff4500"/>
<rect x="221" y="232" width="1" height="45" fill="#32cd32"/>
<rect x="219" y="236" width="5" height="11" fill="#32cd32"/>
<rect x="229" y="249" width="1" height="33" fill="#32cd32"/>
<rect x="227" y="252" width="5" height="17" fill="#32cd32"/>
<rect x="237" y="243" width="1" height="32" fill="#ff4500"/>
<rect x="235" y="244" width="5" height="25" fill="#ff4500"/>
<rect x="245" y="140" width="1" height="52" fill="#ff4500"/>
<rect x="243" y="157" width="5" height="7" fill="#ff4500"/>
<rect x="253" y="140" width="1" height="20" fill="#ff4500"/>
<rect x="251" y="145" width="5" height="12" fill="#ff4500"/>
<rect x="261" y="142" width="1" height="20" fill="#ff4500"/>
<rect x="259" y="145" width="5" height="12" fill="#ff4500"/>
<rect x="269" y="140" width="1" height="16" fill="#ff4500"/>
<rect x="267" y="143" width="5" height="3" fill="#ff4500"/>
<rect x="277" y="154" width="1" height="26" fill="#32cd32"/>
<rect x="275" y="157" width="5" height="8" fill="#32cd32"/>
<rect x="285" y="161" width="1" height="31" fill="#32cd32"/>
<rect x="283" y="164" width="5" height="13" fill="#32cd32"/>
<rect x="293" y="161" width="1" height="41" fill="#32cd32"/>
<rect x="291" y="173" width="5" height="24" fill="#32cd32"/>
<rect x="301" y="189" width="1" height="38" fill="#32cd32"/>
<rect x="299" y="197" width="5" height="7" fill="#32cd32"/>
<rect x="309" y="182" width="1" height="34" fill="#ff4500"/>
<rect x="307" y="194" width="5" height="8" fill="#ff4500"/>
<rect x="317" y="174" width="1" height="23" fill="#ff4500"/>
<rect x="315" y="183" width="5" height="12" fill="#ff4500"/>
<rect x="325" y="202" width="1" height="115" fill="#32cd32"/>
<rect x="323" y="202" width="5" height="81" fill="#32cd32"/>
<rect x="333" y="253" width="1" height="41" fill="#000000"/>
<rect x="331" y="282" width="5" height="1" fill="#000000"/>
<rect x="341" y="266" width="1" height="41" fill="#32cd32"/>
<rect x="339" y="274" width="5" height="27" fill="#32cd32"/>
<rect x="349" y="282" width="1" height="24" fill="#ff4500"/>
<rect x="347" y="291" width="5" height="10" fill="#ff4500"/>
<rect x="357" y="265" width="1" height="36" fill="#32cd32"/>
<rect x="355" y="269" width="5" height="15" fill="#32cd32"/>
<rect x="365" y="280" width="1" height="22" fill="#32cd32"/>
<rect x="363" y="284" width="5" height="6" fill="#32cd32"/>
<rect x="373" y="238" width="1" height="46" fill="#32cd32"/>
<rect x="371" y="269" width="5" height="10" fill="#32cd32"/>
<rect x="381" y="273" width="1" height="38" fill="#32cd32"/>
<rect x="379" y="278" width="5" height="17" fill="#32cd32"/>
<rect x="389" y="243" width="1" height="57" fill="#ff4500"/>
<rect x="387" y="257" width="5" height="36" fill="#ff4500"/>
<rect x="397" y="247" width="1" height="20" fill="#32cd32"/>
<rect x="395" y="257" width="5" height="5" fill="#32cd32"/>
<rect x="405" y="211" width="1" height="121" fill="#ff4500"/>
<rect x="403" y="214" width="5" height="70" fill="#ff4500"/>
<rect x="413" y="211" width="1" height="46" fill="#32cd32"/>
<rect x="411" y="214" width="5" height="30" fill="#32cd32"/>
<rect x="421" y="233" width="1" height="32" fill="#32cd32"/>
<rect x="419" y="248" width="5" height="7" fill="#32cd32"/>
<rect x="429" y="252" width="1" height="17" fill="#32cd32"/>
<rect x="427" y="254" width="5" height="6" fill="#32cd32"/>
<rect x="437" y="242" width="1" height="46" fill="#ff4500"/>
<rect x="435" y="252" width="5" height="23" fill="#ff4500"/>
<rect x="445" y="246" width="1" height="21" fill="#32cd32"/>
<rect x="443" y="252" width="5" height="15" fill="#32cd32"/>
<rect x="453" y="285" width="1" height="24" fill="#32cd32"/>
<rect x="451" y="289" width="5" height="12" fill="#32cd32"/>
<rect x="461" y="285" width="1" height="22" fill="#32cd32"/>
<rect x="459" y="301" width="5" height="6" fill="#32cd32"/>
<rect x="469" y="231" width="1" height="59" fill="#ff4500"/>
<rect x="467" y="250" width="5" height="35" fill="#ff4500"/>
<rect x="477" y="246" width="1" height="29" fill="#32cd32"/>
<rect x="475" y="249" width="5" height="14" fill="#32cd32"/>
<rect x="485" y="247" width="1" height="67" fill="#32cd32"/>
<rect x="483" y="257" width="5" height="10" fill="#32cd32"/>
<rect x="493" y="266" width="1" height="29" fill="#32cd32"/>
<rect x="491" y="266" width="5" height="28" fill="#32cd32"/>
<rect x="501" y="275" width="1" height="25" fill="#32cd32"/>
<rect x="499" y="282" width="5" height="10" fill="#32cd32"/>
<rect x="509" y="277" width="1" height="19" fill="#ff4500"/>
<rect x="507" y="282" width="5" height="10" fill="#ff4500"/>
<rect x="517" y="215" width="1" height="52" fill="#ff4500"/>
<rect x="515" y="234" width="5" height="33" fill="#ff4500"/>
<rect x="525" y="233" width="1" height="27" fill="#32cd32"/>
<rect x="523" y="234" width="5" height="18" fill="#32cd32"/>
<rect x="533" y="213" width="1" height="41" fill="#ff4500"/>
<rect x="531" y="229" width="5" height="17" fill="#ff4500"/>
<rect x="541" y="209" width="1" height="28" fill="#ff4500"/>
<rect x="539" y="210" width="5" height="20" fill="#ff4500"/>
<rect x="549" y="210" width="1" height="19" fill="#ff4500"/>
<rect x="547" y="222" width="5" height="5" fill="#ff4500"/>
<rect x="557" y="196" width="1" height="30" fill="#ff4500"/>
<rect x="555" y="207" width="5" height="16" fill="#ff4500"/>
<rect x="565" y="205" width="1" height="27" fill="#32cd32"/>
<rect x="563" y="211" width="5" height="9" fill="#32cd32"/>
<rect x="573" y="212" width="1" height="21" fill="#ff4500"/>
<rect x="571" y="215" width="5" height="4" fill="#ff4500"/>
<rect x="581" y="169" width="1" height="38" fill="#ff4500"/>
<rect x="579" y="182" width="5" height="25" fill="#ff4500"/>
<rect x="589" y="179" width="1" height="22" fill="#32cd32"/>
<rect x="587" y="182" width="5" height="16" fill="#32cd32"/>
<rect x="597" y="211" width="1" height="25" fill="#32cd32"/>
<rect x="595" y="211" width="5" height="10" fill="#32cd32"/>
<rect x="605" y="212" width="1" height="19" fill="#32cd32"/>
<rect x="603" y="221" width="5" height="2" fill="#32cd32"/>
<rect x="613" y="230" width="1" height="44" fill="#32cd32"/>
<rect x="611" y="243" width="5" height="23" fill="#32cd32"/>
<rect x="621" y="257" width="1" height="20" fill="#ff4500"/>
<rect x="619" y="261" width="5" height="6" fill="#ff4500"/>
<rect x="629" y="322" width="1" height="31" fill="#ff4500"/>
<rect x="627" y="337" width="5" height="9" fill="#ff4500"/>
<rect x="637" y="316" width="1" height="26" fill="#ff4500"/>
<rect x="635" y="325" width="5" height="13" fill="#ff4500"/>
<rect x="645" y="341" width="1" height="44" fill="#32cd32"/>
<rect x="643" y="355" width="5" height="18" fill="#32cd32"/>
<rect x="653" y="367" width="1" height="39" fill="#32cd32"/>
<rect x="651" y="371" width="5" height="31" fill="#32cd32"/>
<rect x="661" y="458" width="1" height="42" fill="#32cd32"/>
<rect x="659" y="463" width="5" height="12" fill="#32cd32"/>
<rect x="669" y="431" width="1" height="34" fill="#ff4500"/>
<rect x="667" y="445" width="5" height="20" fill="#ff4500"/>
<rect x="677" y="426" width="1" height="34" fill="#32cd32"/>
<rect x="675" y="428" width="5" height="22" fill="#32cd32"/>
<rect x="685" y="443" width="1" height="32" fill="#32cd32"/>
<rect x="683" y="449" width="5" height="24" fill="#32cd32"/>
<rect x="693" y="420" width="1" height="31" fill="#ff4500"/>
<rect x="691" y="430" width="5" height="7" fill="#ff4500"/>
<rect x="701" y="416" width="1" height="24" fill="#32cd32"/>
<rect x="699" y="430" width="5" height="1" fill="#32cd32"/>
<rect x="709" y="410" width="1" height="47" fill="#32cd32"/>
<rect x="707" y="412" width="5" height="40" fill="#32cd32"/>
<rect x="717" y="442" width="1" height="26" fill="#ff4500"/>
<rect x="715" y="449" width="5" height="4" fill="#ff4500"/>
<rect x="725" y="409" width="1" height="35" fill="#ff4500"/>
<rect x="723" y="420" width="5" height="11" fill="#ff4500"/>
<rect x="733" y="390" width="1" height="47" fill="#ff4500"/>
<rect x="731" y="396" width="5" height="24" fill="#ff4500"/>
<rect x="741" y="403" width="1" height="24" fill="#32cd32"/>
<rect x="739" y="413" width="5" height="10" fill="#32cd32"/>
<rect x="749" y="414" width="1" height="19" fill="#ff4500"/>
<rect x="747" y="416" width="5" height="7" fill="#ff4500"/>
<rect x="757" y="359" width="1" height="31" fill="#32cd32"/>
<rect x="755" y="369" width="5" height="10" fill="#32cd32"/>
<rect x="765" y="376" width="1" height="21" fill="#32cd32"/>
<rect x="763" y="377" width="5" height="18" fill="#32cd32"/>
<rect x="773" y="423" width="1" height="48" fill="#ff4500"/>
<rect x="771" y="429" width="5" height="35" fill="#ff4500"/>
<rect x="781" y="387" width="1" height="53" fill="#ff4500"/>
<rect x="779" y="394" width="5" height="36" fill="#ff4500"/>
<rect x="789" y="351" width="1" height="59" fill="#ff4500"/>
<rect x="787" y="364" width="5" height="27" fill="#ff4500"/>
<rect x="797" y="356" width="1" height="32" fill="#32cd32"/>
<rect x="795" y="363" width="5" height="20" fill="#32cd32"/>
<rect x="805" y="307" width="1" height="62" fill="#ff4500"/>
<rect x="803" y="307" width="5" height="41" fill="#ff4500"/>
<rect x="813" y="274" width="1" height="43" fill="#ff4500"/>
<rect x="811" y="279" width="5" height="28" fill="#ff4500"/>
<rect x="821" y="268" width="1" height="24" fill="#ff4500"/>
<rect x="819" y="282" width="5" height="9" fill="#ff4500"/>
<rect x="829" y="276" width="1" height="16" fill="#32cd32"/>
<rect x="827" y="282" width="5" height="9" fill="#32cd32"/>
<rect x="837" y="279" width="1" height="19" fill="#ff4500"/>
<rect x="835" y="288" width="5" height="5" fill="#ff4500"/>
<rect x="845" y="280" width="1" height="11" fill="#ff4500"/>
<rect x="843" y="288" width="5" height="1" fill="#ff4500"/>
<rect x="853" y="276" width="1" height="25" fill="#32cd32"/>
<rect x="851" y="279" width="5" height="18" fill="#32cd32"/>
<rect x="861" y="278" width="1" height="27" fill="#ff4500"/>
<rect x="859" y="285" width="5" height="12" fill="#ff4500"/>
<rect x="869" y="236" width="1" height="55" fill="#ff4500"/>
<rect x="867" y="253" width="5" height="30" fill="#ff4500"/>
<rect x="877" y="240" width="1" height="27" fill="#32cd32"/>
<rect x="875" y="253" width="5" height="4" fill="#32cd32"/>
<rect x="885" y="285" width="1" height="36" fill="#ff4500"/>
<rect x="883" y="297" width="5" height="12" fill="#ff4500"/>
<rect x="893" y="296" width="1" height="22" fill="#32cd32"/>
<rect x="891" y="297" width="5" height="4" fill="#32cd32"/>
<rect x="901" y="208" width="1" height="76" fill="#ff4500"/>
<rect x="899" y="231" width="5" height="53" fill="#ff4500"/>
<rect x="909" y="225" width="1" height="36" fill="#32cd32"/>
<rect x="907" y="231" width="5" height="27" fill="#32cd32"/>
<rect x="917" y="243" width="1" height="34" fill="#32cd32"/>
<rect x="915" y="248" width="5" height="19" fill="#32cd32"/>
<rect x="925" y="253" width="1" height="17" fill="#32cd32"/>
<rect x="923" y="264" width="5" height="2" fill="#32cd32"/>
<rect x="933" y="261" width="1" height="44" fill="#32cd32"/>
<rect x="931" y="263" width="5" height="24" fill="#32cd32"/>
<rect x="941" y="274" width="1" height="15" fill="#ff4500"/>
<rect x="939" y="279" width="5" height="8" fill="#ff4500"/>
<rect x="949" y="230" width="1" height="39" fill="#32cd32"/>
<rect x="947" y="253" width="5" height="11" fill="#32cd32"/>
<rect x="957" y="252" width="1" height="46" fill="#32cd32"/>
<rect x="955" y="262" width="5" height="9" fill="#32cd32"/>
<rect x="965" y="215" width="1" height="59" fill="#ff4500"/>
<rect x="963" y="221" width="5" height="48" fill="#ff4500"/>
<rect x="973" y="201" width="1" height="27" fill="#32cd32"/>
<rect x="971" y="221" width="5" height="7" fill="#32cd32"/>
<rect x="981" y="215" width="1" height="21" fill="#32cd32"/>
<rect x="979" y="219" width="5" height="6" fill="#32cd32"/>
<rect x="989" y="221" width="1" height="16" fill="#32cd32"/>
<rect x="987" y="223" width="5" height="2" fill="#32cd32"/>
<rect x="997" y="181" width="1" height="41" fill="#ff4500"/>
<rect x="995" y="208" width="5" height="10" fill="#ff4500"/>
<rect x="1005" y="168" width="1" height="57" fill="#ff4500"/>
<rect x="1003" y="168" width="5" height="41" fill="#ff4500"/>
<rect x="1013" y="72" width="1" height="70" fill="#ff4500"/>
<rect x="1011" y="101" width="5" height="41" fill="#ff4500"/>
<rect x="1021" y="88" width="1" height="52" fill="#32cd32"/>
<rect x="1019" y="102" width="5" height="32" fill="#32cd32"/>
<rect x="1029" y="100" width="1" height="28" fill="#32cd32"/>
<rect x="1027" y="113" width="5" height="1" fill="#32cd32"/>
<rect x="1037" y="96" width="1" height="30" fill="#ff4500"/>
<rect x="1035" y="96" width="5" height="19" fill="#ff4500"/>
<rect x="1045" y="69" width="1" height="33" fill="#32cd32"/>
<rect x="1043" y="74" width="5" height="20" fill="#32cd32"/>
<rect x="1053" y="78" width="1" height="19" fill="#ff4500"/>
<rect x="1051" y="85" width="5" height="9" fill="#ff4500"/>
<rect x="1061" y="75" width="1" height="42" fill="#32cd32"/>
<rect x="1059" y="76" width="5" height="33" fill="#32cd32"/>
<rect x="1069" y="89" width="1" height="20" fill="#ff4500"/>
<rect x="1067" y="93" width="5" height="16" fill="#ff4500"/>
<rect x="1077" y="81" width="1" height="48" fill="#32cd32"/>
<rect x="1075" y="84" width="5" height="17" fill="#32cd32"/>
<rect x="1085" y="99" width="1" height="28" fill="#32cd32"/>
<rect x="1083" y="100" width="5" height="21" fill="#32cd32"/>
<rect x="1093" y="91" width="1" height="22" fill="#ff4500"/>
<rect x="1091" y="98" width="5" height="3" fill="#ff4500"/>
<rect x="1101" y="65" width="1" height="38" fill="#ff4500"/>
<rect x="1099" y="76" width="5" height="24" fill="#ff4500"/>
<rect x="1109" y="74" width="1" height="28" fill="#32cd32"/>
<rect x="1107" y="76" width="5" height="12" fill="#32cd32"/>
<rect x="1117" y="85" width="1" height="31" fill="#32cd32"/>
<rect x="1115" y="87" width="5" height="7" fill="#32cd32"/>
<rect x="1125" y="103" width="1" height="29" fill="#32cd32"/>
<rect x="1123" y="104" width="5" height="23" fill="#32cd32"/>
<rect x="1133" y="127" width="1" height="56" fill="#32cd32"/>
<rect x="1131" y="127" width="5" height="43" fill="#32cd32"/>
<rect x="1141" y="133" width="1" height="26" fill="#ff4500"/>
<rect x="1139" y="143" width="5" height="11" fill="#ff4500"/>
<rect x="1149" y="138" width="1" height="18" fill="#32cd32"/>
<rect x="1147" y="143" width="5" height="10" fill="#32cd32"/>
<rect x="1157" y="136" width="1" height="31" fill="#32cd32"/>
<rect x="1155" y="136" width="5" height="15" fill="#32cd32"/>
<rect x="1165" y="133" width="1" height="24" fill="#ff4500"/>
<rect x="1163" y="134" width="5" height="17" fill="#ff4500"/>
<rect x="1173" y="122" width="1" height="15" fill="#32cd32"/>
<rect x="1171" y="125" width="5" height="3" fill="#32cd32"/>
<rect x="1181" y="115" width="1" height="21" fill="#32cd32"/>
<rect x="1179" y="127" width="5" height="3" fill="#32cd32"/>
<rect x="1189" y="143" width="1" height="48" fill="#32cd32"/>
<rect x="1187" y="143" width="5" height="44" fill="#32cd32"/>
<rect x="1197" y="159" width="1" height="32" fill="#ff4500"/>
<rect x="1195" y="162" width="5" height="25" fill="#ff4500"/>
<rect x="1205" y="121" width="1" height="47" fill="#ff4500"/>
<rect x="1203" y="127" width="5" height="28" fill="#ff4500"/>
<rect x="1213" y="125" width="1" height="42" fill="#32cd32"/>
<rect x="1211" y="127" width="5" height="36" fill="#32cd32"/>
<rect x="1221" y="163" width="1" height="26" fill="#32cd32"/>
<rect x="1219" y="172" width="5" height="7" fill="#32cd32"/>
<rect x="1229" y="166" width="1" height="23" fill="#32cd32"/>
<rect x="1227" y="178" width="5" height="11" fill="#32cd32"/>
<rect x="1237" y="161" width="1" height="47" fill="#32cd32"/>
<rect x="1235" y="172" width="5" height="35" fill="#32cd32"/>
<rect x="1245" y="190" width="1" height="28" fill="#32cd32"/>
<rect x="1243" y="207" width="5" height="8" fill="#32cd32"/>
<rect x="1253" y="199" width="1" height="21" fill="#32cd32"/>
<rect x="1251" y="206" width="5" height="4" fill="#32cd32"/>
<rect x="1261" y="194" width="1" height="17" fill="#ff4500"/>
<rect x="1259" y="203" width="5" height="7" fill="#ff4500"/>
<rect x="1269" y="199" width="1" height="32" fill="#32cd32"/>
<rect x="1267" y="208" width="5" height="19" fill="#32cd32"/>
<rect x="1277" y="201" width="1" height="69" fill="#32cd32"/>
<rect x="1275" y="226" width="5" height="42" fill="#32cd32"/>
<rect x="1285" y="203" width="1" height="47" fill="#ff4500"/>
<rect x="1283" y="208" width="5" height="42" fill="#ff4500"/>
<rect x="1293" y="211" width="1" height="25" fill="#32cd32"/>
<rect x="1291" y="212" width="5" height="20" fill="#32cd32"/>
<rect x="1301" y="225" width="1" height="42" fill="#ff4500"/>
<rect x="1299" y="241" width="5" height="9" fill="#ff4500"/>
<rect x="1309" y="220" width="1" height="26" fill="#ff4500"/>
<rect x="1307" y="227" width="5" height="16" fill="#ff4500"/>
<rect x="1317" y="212" width="1" height="28" fill="#ff4500"/>
<rect x="1315" y="220" width="5" height="17" fill="#ff4500"/>
<rect x="1325" y="187" width="1" height="35" fill="#ff4500"/>
<rect x="1323" y="194" width="5" height="27" fill="#ff4500"/>
<rect x="1333" y="164" width="1" height="38" fill="#ff4500"/>
<rect x="1331" y="172" width="5" height="10" fill="#ff4500"/>
<rect x="1341" y="129" width="1" height="47" fill="#ff4500"/>
<rect x="1339" y="141" width="5" height="34" fill="#ff4500"/>
<rect x="1349" y="64" width="1" height="60" fill="#ff4500"/>
<rect x="1347" y="89" width="5" height="23" fill="#ff4500"/>
<rect x="1357" y="85" width="1" height="35" fill="#32cd32"/>
<rect x="1355" y="89" width="5" height="22" fill="#32cd32"/>
<rect x="1365" y="105" width="1" height="19" fill="#32cd32"/>
<rect x="1363" y="111" width="5" height="6" fill="#32cd32"/>
<rect x="1373" y="111" width="1" height="12" fill="#32cd32"/>
<rect x="1371" y="115" width="5" height="5" fill="#32cd32"/>
<rect x="1381" y="85" width="1" height="55" fill="#32cd32"/>
<rect x="1379" y="115" width="5" height="19" fill="#32cd32"/>
<rect x="1389" y="122" width="1" height="19" fill="#32cd32"/>
<rect x="1387" y="133" width="5" height="5" fill="#32cd32"/>
<rect x="1397" y="118" width="1" height="18" fill="#32cd32"/>
<rect x="1395" y="123" width="5" height="5" fill="#32cd32"/>
<rect x="1405" y="126" width="1" height="21" fill="#32cd32"/>
<rect x="1403" y="128" width="5" height="5" fill="#32cd32"/>
<rect x="1413" y="111" width="1" height="55" fill="#32cd32"/>
<rect x="1411" y="125" width="5" height="38" fill="#32cd32"/>
<rect x="1421" y="159" width="1" height="57" fill="#32cd32"/>
<rect x="1419" y="163" width="5" height="42" fill="#32cd32"/>
<rect x="1429" y="183" width="1" height="30" fill="#ff4500"/>
<rect x="1427" y="186" width="5" height="17" fill="#ff4500"/>
<rect x="1437" y="183" width="1" height="27" fill="#32cd32"/>
<rect x="1435" y="185" width="5" height="7" fill="#32cd32"/>
<rect x="1445" y="173" width="1" height="32" fill="#32cd32"/>
<rect x="1443" y="179" width="5" height="20" fill="#32cd32"/>
<rect x="1453" y="164" width="1" height="43" fill="#ff4500"/>
<rect x="1451" y="178" width="5" height="21" fill="#ff4500"/>
<rect x="1461" y="168" width="1" height="29" fill="#32cd32"/>
<rect x="1459" y="183" width="5" height="10" fill="#32cd32"/>
<rect x="1469" y="183" width="1" height="34" fill="#32cd32"/>
<rect x="1467" y="192" width="5" height="5" fill="#32cd32"/>
<rect x="1477" y="172" width="1" height="33" fill="#32cd32"/>
<rect x="1475" y="192" width="5" height="13" fill="#32cd32"/>
<rect x="1485" y="187" width="1" height="31" fill="#ff4500"/>
<rect x="1483" y="187" width="5" height="18" fill="#ff4500"/>
<rect x="1493" y="176" width="1" height="47" fill="#32cd32"/>
<rect x="1491" y="193" width="5" height="3" fill="#32cd32"/>
<rect x="1501" y="154" width="1" height="44" fill="#ff4500"/>
<rect x="1499" y="156" width="5" height="40" fill="#ff4500"/>
<rect x="1509" y="125" width="1" height="36" fill="#ff4500"/>
<rect x="1507" y="133" width="5" height="16" fill="#ff4500"/>
<rect x="1517" y="130" width="1" height="19" fill="#32cd32"/>
<rect x="1515" y="132" width="5" height="5" fill="#32cd32"/>
<rect x="1525" y="131" width="1" height="14" fill="#32cd32"/>
<rect x="1523" y="135" width="5" height="6" fill="#32cd32"/>
<rect x="1533" y="136" width="1" height="17" fill="#32cd32"/>
<rect x="1531" y="141" width="5" height="11" fill="#32cd32"/>
<rect x="1541" y="150" width="1" height="37" fill="#32cd32"/>
<rect x="1539" y="156" width="5" height="24" fill="#32cd32"/>
<rect x="1549" y="170" width="1" height="19" fill="#32cd32"/>
<rect x="1547" y="179" width="5" height="2" fill="#32cd32"/>
<rect x="1557" y="160" width="1" height="21" fill="#32cd32"/>
<rect x="1555" y="165" width="5" height="9" fill="#32cd32"/>
<rect x="1565" y="170" width="1" height="24" fill="#32cd32"/>
<rect x="1563" y="173" width="5" height="7" fill="#32cd32"/>
</g>
<path d="M1349 40 L1361 40 L1355 46 Z" fill="#c0c0c0"/>
<g shape-rendering="crispEdges">
<rect x="5" y="566" width="1" height="10" fill="#c0c0c0"/>
<rect x="13" y="566" width="1" height="9" fill="#c0c0c0"/>
<rect x="21" y="566" width="1" height="5" fill="#c0c0c0"/>
<rect x="29" y="566" width="1" height="1" fill="#c0c0c0"/>
<rect x="37" y="565" width="1" height="2" fill="#c0c0c0"/>
<rect x="45" y="563" width="1" height="4" fill="#c0c0c0"/>
<rect x="53" y="562" width="1" height="5" fill="#c0c0c0"/>
<rect x="61" y="562" width="1" height="5" fill="#c0c0c0"/>
<rect x="69" y="561" width="1" height="6" fill="#c0c0c0"/>
<rect x="77" y="561" width="1" height="6" fill="#c0c0c0"/>
<rect x="85" y="562" width="1" height="5" fill="#c0c0c0"/>
<rect x="93" y="562" width="1" height="5" fill="#c0c0c0"/>
<rect x="101" y="561" width="1" height="6" fill="#c0c0c0"/>
<rect x="109" y="560" width="1" height="7" fill="#c0c0c0"/>
<rect x="117" y="558" width="1" height="9" fill="#c0c0c0"/>
<rect x="125" y="557" width="1" height="10" fill="#c0c0c0"/>
<rect x="133" y="552" width="1" height="15" fill="#c0c0c0"/>
<rect x="141" y="550" width="1" height="17" fill="#c0c0c0"/>
<rect x="149" y="547" width="1" height="20" fill="#c0c0c0"/>
<rect x="157" y="544" width="1" height="23" fill="#c0c0c0"/>
<rect x="165" y="543" width="1" height="24" fill="#c0c0c0"/>
<rect x="173" y="542" width="1" height="25" fill="#c0c0c0"/>
<rect x="181" y="546" width="1" height="21" fill="#c0c0c0"/>
<rect x="189" y="546" width="1" height="21" fill="#c0c0c0"/>
<rect x="197" y="547" width="1" height="20" fill="#c0c0c0"/>
<rect x="205" y="548" width="1" height="19" fill="#c0c0c0"/>
<rect x="213" y="547" width="1" height="20" fill="#c0c0c0"/>
<rect x="221" y="547" width="1" height="20" fill="#c0c0c0"/>
<rect x="229" y="548" width="1" height="19" fill="#c0c0c0"/>
<rect x="237" y="548" width="1" height="19" fill="#c0c0c0"/>
<rect x="245" y="546" width="1" height="21" fill="#c0c0c0"/>
<rect x="253" y="542" width="1" height="25" fill="#c0c0c0"/>
<rect x="261" y="540" width="1" height="27" fill="#c0c0c0"/>
<rect x="269" y="539" width="1" height="28" fill="#c0c0c0"/>
<rect x="277" y="539" width="1" height="28" fill="#c0c0c0"/>
<rect x="285" y="540" width="1" height="27" fill="#c0c0c0"/>
<rect x="293" y="542" width="1" height="25" fill="#c0c0c0"/>
<rect x="301" y="544" width="1" height="23" fill="#c0c0c0"/>
<rect x="309" y="545" width="1" height="22" fill="#c0c0c0"/>
<rect x="317" y="546" width="1" height="21" fill="#c0c0c0"/>
<rect x="325" y="550" width="1" height="17" fill="#c0c0c0"/>
<rect x="333" y="554" width="1" height="13" fill="#c0c0c0"/>
<rect x="341" y="558" width="1" height="9" fill="#c0c0c0"/>
<rect x="349" y="561" width="1" height="6" fill="#c0c0c0"/>
<rect x="357" y="563" width="1" height="4" fill="#c0c0c0"/>
<rect x="365" y="565" width="1" height="2" fill="#c0c0c0"/>
<rect x="373" y="566" width="1" height="1" fill="#c0c0c0"/>
<rect x="381" y="566" width="1" height="1" fill="#c0c0c0"/>
<rect x="389" y="566" width="1" height="1" fill="#c0c0c0"/>
<rect x="397" y="566" width="1" height="1" fill="#c0c0c0"/>
<rect x="405" y="566" width="1" height="1" fill="#c0c0c0"/>
<rect x="413" y="566" width="1" height="1" fill="#c0c0c0"/>
<rect x="421" y="566" width="1" height="1" fill="#c0c0c0"/>
<rect x="429" y="566" width="1" height="1" fill="#c0c0c0"/>
<rect x="437" y="566" width="1" height="1" fill="#c0c0c0"/>
<rect x="445" y="566" width="1" height="1" fill="#c0c0c0"/>
<rect x="453" y="566" width="1" height="1" fill="#c0c0c0"/>
<rect x="461" y="566" width="1" height="1" fill="#c0c0c0"/>
<rect x="469" y="566" width="1" height="1" fill="#c0c0c0"/>
<rect x="477" y="566" width="1" height="1" fill="#c0c0c0"/>
<rect x="485" y="566" width="1" height="1" fill="#c0c0c0"/>
<rect x="493" y="566" width="1" height="1" fill="#c0c0c0"/>
<rect x="501" y="566" width="1" height="1" fill="#c0c0c0"/>
<rect x="509" y="566" width="1" height="2" fill="#c0c0c0"/>
<rect x="517" y="566" width="1" height="1" fill="#c0c0c0"/>
<rect x="525" y="566" width="1" height="1" fill="#c0c0c0"/>
<rect x="533" y="565" width="1" height="2" fill="#c0c0c0"/>
<rect x="541" y="564" width="1" height="3" fill="#c0c0c0"/>
<rect x="549" y="563" width="1" height="4" fill="#c0c0c0"/>
<rect x="557" y="562" width="1" height="5" fill="#c0c0c0"/>
<rect x="565" y="561" width="1" height="6" fill="#c0c0c0"/>
<rect x="573" y="561" width="1" height="6" fill="#c0c0c0"/>
<rect x="581" y="559" width="1" height="8" fill="#c0c0c0"/>
<rect x="589" y="559" width="1" height="8" fill="#c0c0c0"/>
<rect x="597" y="559" width="1" height="8" fill="#c0c0c0"/>
<rect x="605" y="560" width="1" height="7" fill="#c0c0c0"/>
<rect x="613" y="562" width="1" height="5" fill="#c0c0c0"/>
<rect x="621" y="564" width="1" height="3" fill="#c0c0c0"/>
<rect x="629" y="566" width="1" height="1" fill="#c0c0c0"/>
<rect x="637" y="566" width="1" height="4" fill="#c0c0c0"/>
<rect x="645" y="566" width="1" height="8" fill="#c0c0c0"/>
<rect x="653" y="566" width="1" height="12" fill="#c0c0c0"/>
<rect x="661" y="566" width="1" height="17" fill="#c0c0c0"/>
<rect x="669" y="566" width="1" height="22" fill="#c0c0c0"/>
<rect x="677" y="566" width="1" height="24" fill="#c0c0c0"/>
<rect x="685" y="566" width="1" height="26" fill="#c0c0c0"/>
<rect x="693" y="566" width="1" height="27" fill="#c0c0c0"/>
<rect x="701" y="566" width="1" height="27" fill="#c0c0c0"/>
<rect x="709" y="566" width="1" height="27" fill="#c0c0c0"/>
<rect x="717" y="566" width="1" height="26" fill="#c0c0c0"/>
<rect x="725" y="566" width="1" height="25" fill="#c0c0c0"/>
<rect x="733" y="566" width="1" height="23" fill="#c0c0c0"/>
<rect x="741" y="566" width="1" height="22" fill="#c0c0c0"/>
<rect x="749" y="566" width="1" height="21" fill="#c0c0c0"/>
<rect x="757" y="566" width="1" height="17" fill="#c0c0c0"/>
<rect x="765" y="566" width="1" height="16" fill="#c0c0c0"/>
<rect x="773" y="566" width="1" height="15" fill="#c0c0c0"/>
<rect x="781" y="566" width="1" height="15" fill="#c0c0c0"/>
<rect x="789" y="566" width="1" height="13" fill="#c0c0c0"/>
<rect x="797" y="566" width="1" height="11" fill="#c0c0c0"/>
<rect x="805" y="566" width="1" height="7" fill="#c0c0c0"/>
<rect x="813" y="566" width="1" height="3" fill="#c0c0c0"/>
<rect x="821" y="566" width="1" height="1" fill="#c0c0c0"/>
<rect x="829" y="562" width="1" height="5" fill="#c0c0c0"/>
<rect x="837" y="560" width="1" height="7" fill="#c0c0c0"/>
<rect x="845" y="559" width="1" height="8" fill="#c0c0c0"/>
<rect x="853" y="558" width="1" height="9" fill="#c0c0c0"/>
<rect x="861" y="557" width="1" height="10" fill="#c0c0c0"/>
<rect x="869" y="556" width="1" height="11" fill="#c0c0c0"/>
<rect x="877" y="554" width="1" height="13" fill="#c0c0c0"/>
<rect x="885" y="555" width="1" height="12" fill="#c0c0c0"/>
<rect x="893" y="556" width="1" height="11" fill="#c0c0c0"/>
<rect x="901" y="556" width="1" height="11" fill="#c0c0c0"/>
<rect x="909" y="554" width="1" height="13" fill="#c0c0c0"/>
<rect x="917" y="554" width="1" height="13" fill="#c0c0c0"/>
<rect x="925" y="554" width="1" height="13" fill="#c0c0c0"/>
<rect x="933" y="556" width="1" height="11" fill="#c0c0c0"/>
<rect x="941" y="556" width="1" height="11" fill="#c0c0c0"/>
<rect x="949" y="556" width="1" height="11" fill="#c0c0c0"/>
<rect x="957" y="557" width="1" height="10" fill="#c0c0c0"/>
<rect x="965" y="556" width="1" height="11" fill="#c0c0c0"/>
<rect x="973" y="555" width="1" height="12" fill="#c0c0c0"/>
<rect x="981" y="555" width="1" height="12" fill="#c0c0c0"/>
<rect x="989" y="555" width="1" height="12" fill="#c0c0c0"/>
<rect x="997" y="554" width="1" height="13" fill="#c0c0c0"/>
<rect x="1005" y="552" width="1" height="15" fill="#c0c0c0"/>
<rect x="1013" y="548" width="1" height="19" fill="#c0c0c0"/>
<rect x="1021" y="546" width="1" height="21" fill="#c0c0c0"/>
<rect x="1029" y="544" width="1" height="23" fill="#c0c0c0"/>
<rect x="1037" y="542" width="1" height="25" fill="#c0c0c0"/>
<rect x="1045" y="541" width="1" height="26" fill="#c0c0c0"/>
<rect x="1053" y="540" width="1" height="27" fill="#c0c0c0"/>
<rect x="1061" y="540" width="1" height="27" fill="#c0c0c0"/>
<rect x="1069" y="540" width="1" height="27" fill="#c0c0c0"/>
<rect x="1077" y="540" width="1" height="27" fill="#c0c0c0"/>
<rect x="1085" y="542" width="1" height="25" fill="#c0c0c0"/>
<rect x="1093" y="542" width="1" height="25" fill="#c0c0c0"/>
<rect x="1101" y="543" width="1" height="24" fill="#c0c0c0"/>
<rect x="1109" y="544" width="1" height="23" fill="#c0c0c0"/>
<rect x="1117" y="545" width="1" height="22" fill="#c0c0c0"/>
<rect x="1125" y="547" width="1" height="20" fill="#c0c0c0"/>
<rect x="1133" y="550" width="1" height="17" fill="#c0c0c0"/>
<rect x="1141" y="552" width="1" height="15" fill="#c0c0c0"/>
<rect x="1149" y="554" width="1" height="13" fill="#c0c0c0"/>
<rect x="1157" y="556" width="1" height="11" fill="#c0c0c0"/>
<rect x="1165" y="557" width="1" height="10" fill="#c0c0c0"/>
<rect x="1173" y="558" width="1" height="9" fill="#c0c0c0"/>
<rect x="1181" y="558" width="1" height="9" fill="#c0c0c0"/>
<rect x="1189" y="561" width="1" height="6" fill="#c0c0c0"/>
<rect x="1197" y="562" width="1" height="5" fill="#c0c0c0"/>
<rect x="1205" y="562" width="1" height="5" fill="#c0c0c0"/>
<rect x="1213" y="564" width="1" height="3" fill="#c0c0c0"/>
<rect x="1221" y="565" width="1" height="2" fill="#c0c0c0"/>
<rect x="1229" y="566" width="1" height="1" fill="#c0c0c0"/>
<rect x="1237" y="566" width="1" height="2" fill="#c0c0c0"/>
<rect x="1245" y="566" width="1" height="4" fill="#c0c0c0"/>
<rect x="1253" y="566" width="1" height="5" fill="#c0c0c0"/>
<rect x="1261" y="566" width="1" height="5" fill="#c0c0c0"/>
<rect x="1269" y="566" width="1" height="7" fill="#c0c0c0"/>
<rect x="1277" y="566" width="1" height="9" fill="#c0c0c0"/>
<rect x="1285" y="566" width="1" height="9" fill="#c0c0c0"/>
<rect x="1293" y="566" width="1" height="10" fill="#c0c0c0"/>
<rect x="1301" y="566" width="1" height="11" fill="#c0c0c0"/>
<rect x="1309" y="566" width="1" height="11" fill="#c0c0c0"/>
<rect x="1317" y="566" width="1" height="9" fill="#c0c0c0"/>
<rect x="1325" y="566" width="1" height="9" fill="#c0c0c0"/>
<rect x="1333" y="566" width="1" height="7" fill="#c0c0c0"/>
<rect x="1341" y="566" width="1" height="3" fill="#c0c0c0"/>
<rect x="1349" y="566" width="1" height="1" fill="#c0c0c0"/>
<rect x="1357" y="564" width="1" height="3" fill="#c0c0c0"/>
<rect x="1365" y="561" width="1" height="6" fill="#c0c0c0"/>
<rect x="1373" y="560" width="1" height="7" fill="#c0c0c0"/>
<rect x="1381" y="559" width="1" height="8" fill="#c0c0c0"/>
<rect x="1389" y="559" width="1" height="8" fill="#c0c0c0"/>
<rect x="1397" y="559" width="1" height="8" fill="#c0c0c0"/>
<rect x="1405" y="559" width="1" height="8" fill="#c0c0c0"/>
<rect x="1413" y="560" width="1" height="7" fill="#c0c0c0"/>
<rect x="1421" y="564" width="1" height="3" fill="#c0c0c0"/>
<rect x="1429" y="565" width="1" height="2" fill="#c0c0c0"/>
<rect x="1437" y="566" width="1" height="1" fill="#c0c0c0"/>
<rect x="1445" y="566" width="1" height="1" fill="#c0c0c0"/>
<rect x="1453" y="566" width="1" height="1" fill="#c0c0c0"/>
<rect x="1461" y="566" width="1" height="2" fill="#c0c0c0"/>
<rect x="1469" y="566" width="1" height="3" fill="#c0c0c0"/>
<rect x="1477" y="566" width="1" height="3" fill="#c0c0c0"/>
<rect x="1485" y="566" width="1" height="3" fill="#c0c0c0"/>
<rect x="1493" y="566" width="1" height="3" fill="#c0c0c0"/>
<rect x="1501" y="566" width="1" height="1" fill="#c0c0c0"/>
<rect x="1509" y="566" width="1" height="1" fill="#c0c0c0"/>
<rect x="1517" y="565" width="1" height="2" fill="#c0c0c0"/>
<rect x="1525" y="565" width="1" height="2" fill="#c0c0c0"/>
<rect x="1533" y="564" width="1" height="3" fill="#c0c0c0"/>
<rect x="1541" y="565" width="1" height="2" fill="#c0c0c0"/>
<rect x="1549" y="566" width="1" height="1" fill="#c0c0c0"/>
<rect x="1557" y="566" width="1" height="1" fill="#c0c0c0"/>
<rect x="1565" y="566" width="1" height="1" fill="#c0c0c0"/>
<path fill="none" stroke="#ff0000" stroke-width="1" d="M65 566.5h3M455 566.5h3M461 566.5h3M467 566.5h3M473 566.5h3M479 566.5h3M485 566.5h3M491 566.5h2M551 566.5h3M557 566.5h2M851 566.5h3M1265 566.5h3M1379 566.5h3M1487 566.5h3M1493 566.5h2M1535 566.5h3M1541 566.5h3M1547 566.5h3M1553 566.5h2M197 544.5h3M203 544.5h3M209 544.5h3M215 544.5h3M221 544.5h3M227 544.5h3M233 544.5h3M263 544.5h3M335 544.5h2M1061 544.5h3M1139 544.5h3M185 546.5h3M246 546.5h2M251 546.5h3M341 546.5h3M1049 546.5h3M1151 546.5h3M515 568.5h3M521 568.5h3M527 568.5h3M659 568.5h3M1277 568.5h3M1283 568.5h2M1373 568.5h2M1505 568.5h3M1511 568.5h3M1517 568.5h3M89 562.5h3M396 562.5h2M581 562.5h3M1241 562.5h2M1397 562.5h3M1457 562.5h3M725 590.5h3M731 590.5h3M737 590.5h3M743 590.5h3M749 590.5h3M53 569.5h3M839 569.5h3M1367 569.5h3M149 555.5h3M905 555.5h3M911 555.5h3M1193 555.5h3M281 542.5h3M287 542.5h3M293 542.5h2M317 542.5h3M323 542.5h3M1073 542.5h3M1079 542.5h3M1127 542.5h3M71 565.5h3M419 565.5h3M425 565.5h3M431 565.5h3M437 565.5h3M443 565.5h3M449 565.5h3M563 565.5h3M653 565.5h2M857 565.5h2M1260 565.5h2M1385 565.5h2M1481 565.5h3M1559 565.5h3M113 560.5h3M119 560.5h3M389 560.5h3M599 560.5h3M605 560.5h3M611 560.5h3M617 560.5h3M623 560.5h3M629 560.5h3M635 560.5h2M1229 560.5h3M1403 560.5h3M1409 560.5h3M1433 560.5h3M1439 560.5h3M60 567.5h2M497 567.5h3M503 567.5h3M509 567.5h3M533 567.5h3M539 567.5h3M545 567.5h2M846 567.5h2M1271 567.5h3M1499 567.5h3M1524 567.5h2M1529 567.5h2M179 547.5h3M1043 547.5h3M1157 547.5h3M155 554.5h2M365 554.5h3M917 554.5h3M923 554.5h3M929 554.5h3M935 554.5h3M941 554.5h3M947 554.5h3M953 554.5h3M959 554.5h3M965 554.5h3M971 554.5h3M977 554.5h3M983 554.5h3M989 554.5h3M995 554.5h3M1001 554.5h3M1007 554.5h2M299 541.5h3M305 541.5h3M311 541.5h3M1085 541.5h3M1091 541.5h3M1115 541.5h3M1121 541.5h3M707 585.5h2M780 585.5h2M191 545.5h3M239 545.5h3M257 545.5h2M1055 545.5h3M1145 545.5h3M833 571.5h3M1295 571.5h3M96 561.5h2M101 561.5h3M107 561.5h2M587 561.5h3M593 561.5h3M641 561.5h3M869 561.5h2M1235 561.5h3M1446 561.5h2M1451 561.5h3M138 557.5h2M377 557.5h2M887 557.5h3M1205 557.5h3M41 572.5h3M672 572.5h2M1302 572.5h2M1307 572.5h3M1355 572.5h3M167 550.5h3M353 550.5h3M1169 550.5h3M131 558.5h3M881 558.5h3M1211 558.5h3M1217 558.5h2M815 577.5h2M719 589.5h2M755 589.5h3M761 589.5h2M83 563.5h3M401 563.5h2M575 563.5h3M647 563.5h3M864 563.5h2M1247 563.5h3M1392 563.5h2M1463 563.5h3M173 548.5h3M347 548.5h3M1037 548.5h3M1163 548.5h3M47 570.5h3M665 570.5h2M1289 570.5h3M1362 570.5h2M144 556.5h2M371 556.5h3M894 556.5h2M899 556.5h2M1199 556.5h3M35 573.5h3M827 573.5h2M1313 573.5h3M1349 573.5h2M77 564.5h3M407 564.5h3M413 564.5h3M569 564.5h3M1253 564.5h3M1470 564.5h2M1475 564.5h3M125 559.5h3M384 559.5h2M875 559.5h3M1223 559.5h3M1415 559.5h3M1421 559.5h3M1427 559.5h3M689 580.5h2M803 580.5h3M269 543.5h3M275 543.5h2M329 543.5h3M1067 543.5h3M1133 543.5h3M1025 551.5h2M1175 551.5h3M29 574.5h3M677 574.5h2M1319 574.5h3M1325 574.5h3M1331 574.5h3M1337 574.5h3M1343 574.5h3M1097 540.5h3M1103 540.5h3M1109 540.5h3M5 576.5h3M11 576.5h3M684 578.5h2M810 578.5h2M791 583.5h3M161 552.5h2M359 552.5h3M1019 552.5h3M1181 552.5h3M1013 553.5h3M1187 553.5h2M798 581.5h2M702 584.5h2M785 584.5h3M695 582.5h2M17 575.5h3M23 575.5h3M821 575.5h2M767 588.5h3M713 587.5h2M773 587.5h2M1032 549.5h2M547.5 566v1M655.5 566v1M1531.5 566v1M259.5 544v1M59.5 568v1M845.5 568v1M1523.5 568v1M95.5 562v1M721.5 590v1M1285.5 569v1M901.5 555v1M277.5 542v1M559.5 565v1M1555.5 565v1M1565.5 565v1M109.5 560v1M871.5 560v1M1445.5 560v1M493.5 567v1M1375.5 567v1M1495.5 567v1M1189.5 554v1M295.5 541v1M245.5 545v1M337.5 545v1M667.5 571v1M671.5 571v1M1301.5 571v1M1361.5 571v1M395.5 561v1M637.5 561v1M143.5 557v1M893.5 557v1M709.5 586v1M775.5 586v1M779.5 586v1M829.5 572v1M1351.5 572v1M1027.5 550v1M1031.5 550v1M137.5 558v1M379.5 558v1M383.5 558v1M683.5 577v1M1243.5 563v1M1469.5 563v1M403.5 564v1M859.5 564v1M863.5 564v1M1259.5 564v1M1387.5 564v1M1391.5 564v1M1219.5 559v1M163.5 551v1M823.5 574v1M817.5 576v1M697.5 583v1M701.5 583v1M157.5 553v1M1009.5 553v1M691.5 581v1M797.5 582v1M679.5 575v1M715.5 588v1M763.5 588v1M809.5 579v1"/>
</g>
<g shape-rendering="crispEdges">
<line x1="5" y1="636.5" x2="1674" y2="636.5" stroke="#c0c0c0" stroke-width="1" stroke-dasharray="3 3"/>
<line x1="5" y1="687.5" x2="1674" y2="687.5" stroke="#c0c0c0" stroke-width="1" stroke-dasharray="3 3"/>
<path fill="none" stroke="#1e90ff" stroke-width="1" d="M68 657.5h3M100 657.5h5M181 657.5h2M597 657.5h9M933 657.5h4M1331 657.5h2M122 646.5h2M216 646.5h3M286 646.5h2M581 646.5h2M865 646.5h2M967 646.5h5M977 646.5h14M1085 646.5h2M1354 646.5h2M325 668.5h10M351 668.5h5M359 668.5h5M367 668.5h3M377 668.5h3M449 668.5h2M493 668.5h10M613 668.5h5M766 668.5h2M1191 668.5h2M1223 668.5h5M1286 668.5h3M1315 668.5h3M1426 668.5h3M1433 668.5h9M1446 668.5h2M1465 668.5h7M1480 668.5h2M23 649.5h2M291 649.5h2M312 649.5h3M807 649.5h2M826 649.5h21M860 649.5h2M1362 649.5h7M82 661.5h5M394 661.5h4M420 661.5h5M432 661.5h3M476 661.5h5M1148 661.5h5M631 680.5h3M639 680.5h2M693 680.5h10M739 673.5h2M744 673.5h3M1237 673.5h4M1250 673.5h5M1300 673.5h3M21 650.5h2M52 650.5h2M224 650.5h3M232 650.5h3M293 650.5h3M307 650.5h5M540 650.5h3M556 650.5h3M576 650.5h2M588 650.5h2M805 650.5h2M847 650.5h5M855 650.5h5M1369 650.5h6M61 655.5h2M943 655.5h2M1170 655.5h12M1334 655.5h2M1386 655.5h5M1502 655.5h2M279 643.5h2M996 643.5h2M1112 643.5h3M155 642.5h15M277 642.5h2M1079 642.5h2M1092 642.5h3M1108 642.5h4M7 664.5h5M444 664.5h2M487 664.5h2M757 664.5h2M782 664.5h2M1134 664.5h2M1213 664.5h2M1321 664.5h2M1453 664.5h2M1551 664.5h5M1559 664.5h5M372 666.5h3M490 666.5h2M505 666.5h3M761 666.5h3M1194 666.5h2M1217 666.5h3M1449 666.5h2M1457 666.5h3M1483 666.5h2M1487 666.5h5M12 665.5h2M508 665.5h2M759 665.5h2M1215 665.5h2M1451 665.5h2M1455 665.5h2M1485 665.5h2M1541 665.5h10M1564 665.5h2M63 656.5h5M105 656.5h5M183 656.5h2M410 656.5h2M520 656.5h3M528 656.5h3M885 656.5h9M930 656.5h3M937 656.5h6M1164 656.5h6M1530 656.5h3M284 645.5h2M867 645.5h2M874 645.5h4M965 645.5h2M991 645.5h2M35 652.5h2M47 652.5h3M56 652.5h2M189 652.5h5M228 652.5h3M299 652.5h5M536 652.5h3M545 652.5h3M551 652.5h3M561 652.5h3M913 652.5h9M1339 652.5h2M1376 652.5h3M1507 652.5h2M1513 652.5h9M356 667.5h3M370 667.5h2M375 667.5h2M503 667.5h2M618 667.5h4M764 667.5h2M1220 667.5h3M1429 667.5h4M1460 667.5h5M1492 667.5h2M37 653.5h10M194 653.5h12M548 653.5h3M564 653.5h10M922 653.5h4M948 653.5h5M1396 653.5h5M1522 653.5h4M335 669.5h2M348 669.5h3M364 669.5h3M380 669.5h2M1228 669.5h2M1312 669.5h3M1442 669.5h4M1472 669.5h3M1478 669.5h2M457 672.5h5M737 672.5h2M747 672.5h3M771 672.5h2M1234 672.5h3M1255 672.5h5M1262 672.5h3M1295 672.5h5M1303 672.5h3M425 662.5h7M440 662.5h3M481 662.5h5M794 662.5h3M137 638.5h2M247 638.5h3M270 638.5h2M1021 638.5h2M1064 638.5h3M1072 638.5h3M1100 638.5h3M76 660.5h6M87 660.5h5M389 660.5h5M417 660.5h3M435 660.5h4M471 660.5h5M787 660.5h2M790 660.5h3M1139 660.5h2M1143 660.5h5M1153 660.5h6M1326 660.5h2M59 654.5h2M186 654.5h2M407 654.5h2M517 654.5h2M532 654.5h3M593 654.5h2M926 654.5h3M945 654.5h3M953 654.5h5M1336 654.5h2M1380 654.5h6M1391 654.5h5M1401 654.5h5M1504 654.5h2M1526 654.5h3M680 689.5h3M634 679.5h2M25 648.5h3M30 648.5h2M220 648.5h3M236 648.5h2M289 648.5h2M315 648.5h3M584 648.5h3M809 648.5h3M817 648.5h9M862 648.5h2M905 648.5h2M1357 648.5h5M683 690.5h3M145 640.5h7M273 640.5h2M1000 640.5h2M1061 640.5h2M1076 640.5h2M1096 640.5h3M1104 640.5h3M141 641.5h4M152 641.5h3M170 641.5h4M275 641.5h2M1034 633.5h15M71 658.5h3M95 658.5h5M413 658.5h2M524 658.5h3M1160 658.5h3M1329 658.5h2M340 671.5h3M453 671.5h4M1260 671.5h2M1293 671.5h2M1306 671.5h2M250 637.5h2M266 637.5h4M5 663.5h2M1556 663.5h3M50 651.5h2M54 651.5h2M296 651.5h3M304 651.5h3M543 651.5h2M554 651.5h2M559 651.5h2M852 651.5h3M909 651.5h4M1509 651.5h4M642 682.5h2M705 682.5h3M713 682.5h5M629 681.5h2M703 681.5h2M652 688.5h2M673 688.5h7M245 639.5h2M337 670.5h3M343 670.5h5M731 670.5h2M734 670.5h2M1230 670.5h3M1290 670.5h3M1308 670.5h4M1422 670.5h3M1475 670.5h3M28 647.5h2M812 647.5h5M972 647.5h5M252 636.5h14M1024 636.5h3M1068 636.5h3M119 644.5h2M213 644.5h2M281 644.5h3M869 644.5h5M993 644.5h3M1082 644.5h2M1088 644.5h3M1115 644.5h3M1351 644.5h2M1049 632.5h5M74 659.5h2M92 659.5h3M415 659.5h2M469 659.5h2M1141 659.5h2M726 674.5h2M741 674.5h3M1241 674.5h9M1266 674.5h3M636 678.5h2M721 678.5h2M1028 634.5h6M669 687.5h4M645 684.5h2M708 683.5h5M648 686.5h3M657 692.5h2M17.5 657v2M321.5 657v3M401.5 656v2M412.5 657v1M515.5 657v1M523.5 657v1M527.5 657v1M801.5 656v2M1127.5 657v1M1163.5 657v1M1182.5 656v2M1204.5 657v1M1206.5 657v1M1408.5 657v1M1500.5 657v2M1533.5 657v1M115.5 645v2M126.5 646v2M175.5 645v2M211.5 646v1M239.5 646v1M878.5 646v2M900.5 645v2M903.5 646v1M964.5 646v1M1119.5 646v2M1345.5 646v2M382.5 668v1M463.5 668v2M622.5 668v2M753.5 668v1M778.5 668v1M1188.5 668v2M1284.5 668v3M1418.5 668v1M32.5 649v1M113.5 649v1M177.5 649v2M209.5 648v2M223.5 649v1M235.5 649v1M317.5 649v1M578.5 649v1M587.5 649v1M880.5 649v1M898.5 648v2M907.5 649v1M961.5 649v2M1121.5 649v1M1343.5 649v1M15.5 661v2M322.5 660v2M388.5 661v1M439.5 661v1M468.5 660v2M512.5 661v1M608.5 661v1M786.5 661v1M793.5 661v1M798.5 661v2M1130.5 661v1M1138.5 661v1M1184.5 660v2M1200.5 661v1M1210.5 661v1M1325.5 661v1M1412.5 661v1M1497.5 661v2M1537.5 661v1M628.5 679v2M719.5 680v1M1274.5 680v1M1278.5 680v3M624.5 672v2M728.5 673v1M773.5 673v1M1265.5 673v1M1282.5 672v3M33.5 650v1M112.5 650v2M208.5 650v1M318.5 650v2M881.5 650v2M897.5 650v1M908.5 650v1M1122.5 650v1M1342.5 650v1M18.5 655v2M110.5 654v2M180.5 655v2M185.5 655v1M320.5 655v2M402.5 655v1M409.5 655v1M516.5 655v2M519.5 655v1M531.5 655v1M595.5 655v1M802.5 655v1M884.5 654v2M894.5 654v2M929.5 655v1M1126.5 655v2M1406.5 655v1M1529.5 655v1M116.5 643v2M118.5 643v1M128.5 642v2M174.5 643v2M241.5 643v2M1081.5 643v1M1091.5 643v1M1348.5 643v1M1350.5 643v1M117.5 642v1M173.5 642v1M242.5 642v1M998.5 642v1M1349.5 642v1M14.5 663v2M323.5 662v3M385.5 664v2M466.5 664v1M510.5 663v2M610.5 664v1M1132.5 663v2M1186.5 664v2M1197.5 664v1M1415.5 664v1M1495.5 664v1M1540.5 664v1M324.5 665v2M384.5 666v1M447.5 666v1M465.5 665v2M612.5 666v2M755.5 666v1M780.5 666v1M1187.5 666v2M1319.5 666v1M1417.5 666v2M1494.5 665v2M446.5 665v1M489.5 665v1M611.5 665v1M756.5 665v1M781.5 665v1M1133.5 665v1M1196.5 665v1M1320.5 665v1M1416.5 665v1M596.5 656v1M1205.5 656v1M1333.5 656v1M1407.5 656v1M1501.5 656v1M121.5 645v1M127.5 644v2M212.5 645v1M215.5 645v1M240.5 645v1M902.5 645v1M1084.5 645v1M1087.5 645v1M1118.5 645v1M1346.5 645v1M1353.5 645v1M20.5 651v2M111.5 652v2M178.5 651v2M206.5 652v1M319.5 652v3M405.5 652v1M574.5 652v1M591.5 652v1M804.5 651v2M882.5 652v1M896.5 651v2M959.5 652v1M1123.5 651v2M325.5 667v1M383.5 667v1M448.5 667v1M464.5 667v1M492.5 667v1M754.5 667v1M779.5 667v1M1193.5 667v1M1285.5 667v1M1318.5 667v1M1448.5 667v1M1482.5 667v1M19.5 653v2M58.5 653v1M179.5 653v2M188.5 653v1M404.5 653v1M406.5 653v1M535.5 653v1M592.5 653v1M803.5 653v2M883.5 653v1M895.5 653v1M958.5 653v1M1124.5 653v1M1338.5 653v1M1379.5 653v1M1506.5 653v1M451.5 669v1M733.5 669v1M752.5 669v1M768.5 669v1M777.5 669v1M1190.5 669v1M1289.5 669v1M1419.5 669v1M1425.5 669v1M729.5 672v1M774.5 672v1M387.5 662v1M467.5 662v2M511.5 662v1M609.5 662v2M785.5 662v1M1131.5 662v1M1137.5 662v1M1185.5 662v2M1199.5 662v1M1211.5 662v1M1324.5 662v1M1413.5 662v1M1538.5 662v1M131.5 637v2M1003.5 638v1M1059.5 638v1M16.5 659v2M398.5 660v1M513.5 659v2M607.5 660v1M799.5 659v2M1129.5 659v2M1201.5 660v1M1209.5 660v1M1411.5 660v1M1498.5 660v1M1536.5 660v1M403.5 654v1M1125.5 654v1M654.5 689v1M667.5 689v1M686.5 689v1M638.5 679v1M720.5 679v1M1273.5 679v1M1279.5 679v1M114.5 647v2M125.5 648v1M176.5 647v2M579.5 648v1M879.5 648v1M962.5 648v1M1120.5 648v1M1344.5 648v1M655.5 690v1M666.5 690v1M130.5 639v2M140.5 640v1M244.5 640v1M129.5 641v1M243.5 641v1M999.5 641v1M1078.5 641v1M1095.5 641v1M1107.5 641v1M1008.5 633v1M1017.5 633v1M1054.5 633v1M181.5 658v1M400.5 658v1M514.5 658v1M606.5 658v2M800.5 658v1M1128.5 658v1M1183.5 658v2M1203.5 658v1M1207.5 658v1M1409.5 658v1M1534.5 658v1M462.5 670v2M623.5 670v2M730.5 671v1M736.5 671v1M750.5 671v1M770.5 671v1M775.5 671v1M1233.5 671v1M1283.5 671v1M1421.5 671v1M136.5 637v1M1004.5 637v1M1020.5 637v1M1023.5 637v1M1058.5 637v1M1067.5 637v1M1071.5 637v1M626.5 675v2M724.5 676v1M1270.5 676v1M1280.5 676v3M386.5 663v1M443.5 663v1M486.5 663v1M784.5 663v1M797.5 663v1M1136.5 663v1M1198.5 663v1M1212.5 663v1M1323.5 663v1M1414.5 663v1M1496.5 663v1M1539.5 663v1M34.5 651v1M207.5 651v1M227.5 651v1M231.5 651v1M539.5 651v1M575.5 651v1M590.5 651v1M960.5 651v1M1341.5 651v1M1375.5 651v1M691.5 682v2M1276.5 682v1M641.5 681v1M692.5 681v1M718.5 681v1M1275.5 681v1M668.5 688v1M687.5 687v2M139.5 639v1M272.5 639v1M1002.5 639v1M1060.5 639v1M1063.5 639v1M1075.5 639v1M1099.5 639v1M1103.5 639v1M452.5 670v1M751.5 670v1M769.5 670v1M776.5 670v1M1189.5 670v1M1420.5 670v1M124.5 647v1M210.5 647v1M219.5 647v1M238.5 647v1M288.5 647v1M580.5 647v1M583.5 647v1M864.5 647v1M899.5 647v1M904.5 647v1M963.5 647v1M1356.5 647v1M132.5 635v2M135.5 636v1M1005.5 636v1M1019.5 635v2M1057.5 636v1M901.5 644v1M1347.5 644v1M1009.5 632v1M1016.5 632v1M399.5 659v1M789.5 659v1M1159.5 659v1M1202.5 659v1M1208.5 659v1M1328.5 659v1M1410.5 659v1M1499.5 659v1M1535.5 659v1M625.5 674v1M656.5 691v1M665.5 691v1M134.5 635v1M1006.5 635v1M1027.5 635v1M1056.5 635v1M1013.5 628v1M627.5 677v2M1272.5 678v1M725.5 675v1M1269.5 675v1M1281.5 675v1M723.5 677v1M1271.5 677v1M133.5 634v1M1007.5 634v1M1018.5 634v1M1055.5 634v1M647.5 685v1M689.5 685v1M651.5 687v1M690.5 684v1M659.5 693v1M663.5 693v1M644.5 683v1M1277.5 683v1M1012.5 629v1M1014.5 629v1M688.5 686v1M664.5 692v1M660.5 694v1M662.5 694v1M1011.5 630v1M1015.5 630v2M1010.5 631v1M661.5 695v1"/>
</g>
<g shape-rendering="crispEdges" fill="#000">
<rect x="1675" y="72" width="2" height="1"/>
<rect x="1675" y="121" width="2" height="1"/>
<rect x="1675" y="170" width="2" height="1"/>
<rect x="1675" y="219" width="2" height="1"/>
<rect x="1675" y="268" width="2" height="1"/>
<rect x="1675" y="317" width="2" height="1"/>
<rect x="1675" y="366" width="2" height="1"/>
<rect x="1675" y="415" width="2" height="1"/>
<rect x="1675" y="464" width="2" height="1"/>
<rect x="1675" y="513" width="2" height="1"/>
<rect x="1675" y="536" width="2" height="1"/>
<rect x="1675" y="566" width="2" height="1"/>
<rect x="1675" y="594" width="2" height="1"/>
<rect x="1675" y="598" width="2" height="1"/>
<rect x="1675" y="636" width="2" height="1"/>
<rect x="1675" y="687" width="2" height="1"/>
<rect x="1675" y="724" width="2" height="1"/>
<rect x="5" y="726" width="1" height="3"/>
<rect x="101" y="726" width="1" height="3"/>
<rect x="197" y="726" width="1" height="3"/>
<rect x="293" y="726" width="1" height="3"/>
<rect x="389" y="726" width="1" height="3"/>
<rect x="485" y="726" width="1" height="3"/>
<rect x="581" y="726" width="1" height="3"/>
<rect x="677" y="726" width="1" height="3"/>
<rect x="773" y="726" width="1" height="3"/>
<rect x="869" y="726" width="1" height="3"/>
<rect x="965" y="726" width="1" height="3"/>
<rect x="1061" y="726" width="1" height="3"/>
<rect x="1157" y="726" width="1" height="3"/>
<rect x="1253" y="726" width="1" height="3"/>
<rect x="1349" y="726" width="1" height="3"/>
<rect x="1445" y="726" width="1" height="3"/>
<rect x="1541" y="726" width="1" height="3"/>
</g>
<g fill="#000">
<text transform="translate(1680.8 77) scale(0.982 1)" >3978.5</text>
<text transform="translate(1680.8 126) scale(0.982 1)" >3932.0</text>
<text transform="translate(1680.8 175) scale(0.982 1)" >3885.5</text>
<text transform="translate(1680.8 224) scale(0.982 1)" >3838.5</text>
<text transform="translate(1680.8 273) scale(0.982 1)" >3792.0</text>
<text transform="translate(1680.8 322) scale(0.982 1)" >3745.0</text>
<text transform="translate(1680.8 371) scale(0.982 1)" >3698.5</text>
<text transform="translate(1680.8 420) scale(0.982 1)" >3652.0</text>
<text transform="translate(1680.8 469) scale(0.982 1)" >3605.0</text>
<text transform="translate(1680.8 518) scale(0.982 1)" >3558.5</text>
<text transform="translate(1678.5 547.5) scale(0.962 1)" >59.53</text>
<text transform="translate(1678.5 570.5) scale(0.962 1)" >0.00</text>
<text transform="translate(1678.5 591.5) scale(0.962 1)" >-57.01</text>
<text transform="translate(1678.5 610.5) scale(0.962 1)" >100</text>
<text transform="translate(1677.2 641) scale(0.962 1)" >70</text>
<text transform="translate(1677.2 692) scale(0.962 1)" >30</text>
<text transform="translate(1678.2 722) scale(0.962 1)" >0</text>
<text id="d0" transform="translate(3.22 741.3) scale(0.9826 1)" fill="#000">10 Jun 2019</text>
<text id="d1" transform="translate(99.23 741.3) scale(0.9795 1)" fill="#000">18 Jun 01:30</text>
<text id="d2" transform="translate(196.21 741.3) scale(0.9662 1)" fill="#000">26 Jun 01:30</text>
<text id="d3" transform="translate(292.21 741.3) scale(0.9694 1)" fill="#000">4 Jul 01:30</text>
<text id="d4" transform="translate(387.25 741.3) scale(0.9667 1)" fill="#000">12 Jul 01:30</text>
<text id="d5" transform="translate(484.22 741.3) scale(0.9571 1)" fill="#000">22 Jul 01:30</text>
<text id="d6" transform="translate(580.21 741.3) scale(0.9657 1)" fill="#000">30 Jul 01:30</text>
<text id="d7" transform="translate(676.20 741.3) scale(1.0103 1)" fill="#000">7 Aug 01:30</text>
<text id="d8" transform="translate(771.18 741.3) scale(1.0108 1)" fill="#000">15 Aug 01:30</text>
<text id="d9" transform="translate(868.20 741.3) scale(1.0013 1)" fill="#000">23 Aug 01:30</text>
<text id="d10" transform="translate(964.21 741.3) scale(0.9725 1)" fill="#000">2 Sep 01:30</text>
<text id="d11" transform="translate(1059.22 741.3) scale(0.9840 1)" fill="#000">10 Sep 01:30</text>
<text id="d12" transform="translate(1155.22 741.3) scale(0.9840 1)" fill="#000">19 Sep 01:30</text>
<text id="d13" transform="translate(1252.21 741.3) scale(0.9737 1)" fill="#000">27 Sep 01:30</text>
<text id="d14" transform="translate(1347.18 741.3) scale(1.0139 1)" fill="#000">14 Oct 01:30</text>
<text id="d15" transform="translate(1444.20 741.3) scale(1.0014 1)" fill="#000">22 Oct 01:30</text>
<text id="d16" transform="translate(1540.20 741.3) scale(1.0041 1)" fill="#000">30 Oct 01:30</text>
</g>
<g shape-rendering="crispEdges">
<rect x="1676" y="124" width="49" height="14" fill="#ff0000"/>
<rect x="1676" y="172" width="49" height="14" fill="#000"/>
</g>
<g fill="#fff">
<text transform="translate(1680.8 136) scale(0.982 1)" >3924.0</text>
<text transform="translate(1680.8 184) scale(0.982 1)" >3877.3</text>
</g>
<g shape-rendering="crispEdges">
<rect x="1676" y="183" width="49" height="14" fill="#00ff7f"/>
<rect x="1676" y="264" width="49" height="14" fill="#0000ff"/>
<rect x="1676" y="348" width="49" height="14" fill="#0000ff"/>
</g>
<g fill="#fff">
<text transform="translate(1680.8 195) scale(0.982 1)" >3867.5</text>
<text transform="translate(1680.8 276) scale(0.982 1)" >3790.0</text>
<text transform="translate(1680.8 360) scale(0.982 1)" >3710.0</text>
</g>
<path d="M8.500 52 L17 52 L12.750 47 Z" fill="#000"/>
<text id="t1" transform="translate(22.85 54) scale(0.9118 1)" fill="#000">CHINA300-,H4</text>
<text id="t2" transform="translate(109.30 54) scale(0.9952 1)" fill="#000">3882.8 3885.6 3864.0 3877.3</text>
<text id="ml" transform="translate(7.43 550) scale(0.9807 1)" fill="#000">MACD(12,26,9) 0.17 0.97</text>
<text id="rl" transform="translate(7.44 613) scale(0.9763 1)" fill="#000">RSI(14) 47.4287</text>
<g shape-rendering="crispEdges">
<rect x="6" y="60" width="287" height="80" fill="#fff"/>
<path d="M8 62 H76 V89 H149 V138 H8 Z" fill="url(#gb)"/>
<path d="M223 62 H291 V138 H151 V89 H223 Z" fill="url(#gb)"/>
<rect x="149" y="89" width="2" height="49" fill="#fff"/>
<rect x="12" y="88" width="60" height="1" fill="#8c8cf0"/>
<rect x="227" y="88" width="60" height="1" fill="#8c8cf0"/>
<rect x="78.500" y="62.5" width="142" height="24" fill="#fff" stroke="#b0b0b0"/>
<rect x="79.500" y="63.5" width="22" height="22" fill="url(#gs)" stroke="#c4c4c4"/>
<rect x="197.500" y="63.5" width="22" height="22" fill="url(#gs)" stroke="#c4c4c4"/>
</g>
<path d="M87 73 L94 73 L90.500 77 Z" fill="#5060b4"/>
<path d="M205 76 L212 76 L208.500 72 Z" fill="#5060b4"/>
<text id="sl" transform="translate(24.34 81) scale(0.8972 1)" font-size="15.5" fill="#fff">SELL</text>
<text id="by" transform="translate(241.08 81) scale(0.9467 1)" font-size="15.5" fill="#fff">BUY</text>
<text id="p1" transform="translate(38.15 127) scale(1.1226 1)" font-size="14.2" font-weight="bold" fill="#fff">3875</text>
<text id="p2" transform="translate(179.42 127) scale(1.1500 1)" font-size="14.2" font-weight="bold" fill="#fff">3881</text>
<text id="vol" transform="translate(160.89 80) scale(1.0714 1)" font-size="15.5" fill="#000">1.00</text>
<ellipse cx="82.400" cy="124.900" rx="2.700" ry="2.100" fill="#fff"/>
<ellipse cx="225.400" cy="124.900" rx="2.700" ry="2.100" fill="#fff"/>
<text x="87.300" y="127.300" font-size="41" fill="#fff">8</text>
<text x="229" y="127.300" font-size="41" fill="#fff">4</text>
</svg>
<div class="note" style="left:1182.700px;top:416px;transform:scale(1.023,1.065);letter-spacing:-0.3px;">多空转折点</div>
<div class="note" style="left:1437px;top:412.500px;transform:scale(1.012,1.095);">3867.5</div>
</body></html>
